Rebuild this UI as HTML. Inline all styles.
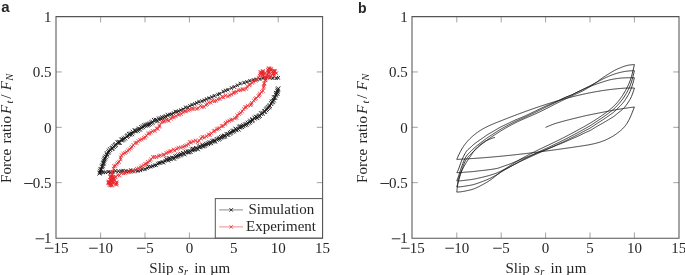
<!DOCTYPE html><html><head><meta charset="utf-8"><style>html,body{margin:0;padding:0;background:#fff;}svg{display:block;will-change:transform;}text{font-family:"Liberation Serif",serif;fill:#262626;}</style></head><body>
<svg width="685" height="275" viewBox="0 0 685 275">
<path d="M100.60 238.3V232.50M100.60 16.6V22.40M145.00 238.3V232.50M145.00 16.6V22.40M189.40 238.3V232.50M189.40 16.6V22.40M233.80 238.3V232.50M233.80 16.6V22.40M278.20 238.3V232.50M278.20 16.6V22.40M56.00 182.65H61.80M322.60 182.65H316.80M56.00 127.30H61.80M322.60 127.30H316.80M56.00 71.95H61.80M322.60 71.95H316.80" stroke="#8c8c8c" stroke-width="0.8" fill="none"/>
<path d="M56.00 16.6V238.3M322.60 16.6V238.3M56.00 16.6H322.60M56.00 238.3H322.60" stroke="#555" stroke-width="1.05" fill="none" stroke-linecap="square"/>
<path d="M278.40 88.10 278.12 89.01 278.02 89.32 277.91 89.66 277.79 90.05 277.66 90.49 277.50 90.96 277.35 91.44 277.19 91.91 277.03 92.39 276.87 92.86 276.70 93.33 276.54 93.80 276.37 94.28 276.19 94.74 276.00 95.21 275.81 95.67 275.62 96.13 275.41 96.58 275.21 97.04 274.99 97.49 274.78 97.94 274.55 98.39 274.32 98.83 274.09 99.27 273.86 99.72 273.62 100.16 273.38 100.59 273.13 101.03 272.88 101.46 272.62 101.88 272.36 102.31 272.09 102.73 271.81 103.15 271.53 103.56 271.25 103.97 270.96 104.38 270.67 104.78 270.37 105.19 270.08 105.59 269.78 105.99 269.47 106.39 269.17 106.78 268.86 107.17 268.54 107.56 268.22 107.94 267.89 108.32 267.55 108.69 267.21 109.05 266.85 109.40 266.50 109.75 266.13 110.09 265.77 110.42 265.39 110.76 265.02 111.08 264.63 111.41 264.25 111.73 263.86 112.05 263.48 112.37 263.09 112.68 262.71 113.00 262.32 113.32 261.93 113.64 261.55 113.95 261.16 114.27 260.77 114.58 260.38 114.90 259.99 115.21 259.60 115.52 259.20 115.82 258.80 116.12 258.40 116.42 257.99 116.71 257.59 117.00 257.17 117.29 256.76 117.57 256.34 117.84 255.92 118.11 255.50 118.38 255.08 118.65 254.66 118.92 254.23 119.18 253.81 119.45 253.39 119.72 252.96 119.99 252.54 120.25 252.12 120.52 251.69 120.78 251.27 121.04 250.84 121.31 250.42 121.57 249.99 121.83 249.56 122.10 249.14 122.36 248.71 122.62 248.28 122.88 247.86 123.14 247.43 123.39 246.99 123.64 246.56 123.89 246.12 124.13 245.68 124.37 245.24 124.61 244.80 124.84 244.36 125.07 243.91 125.30 243.46 125.52 243.01 125.74 242.57 125.97 242.12 126.19 241.68 126.42 241.23 126.66 240.80 126.89 240.36 127.14 239.92 127.38 239.49 127.63 239.06 127.89 238.64 128.15 238.21 128.41 237.79 128.68 237.37 128.95 236.95 129.23 236.53 129.50 236.11 129.76 235.68 130.02 235.25 130.28 234.82 130.53 234.38 130.77 233.94 131.01 233.50 131.24 233.06 131.47 232.61 131.70 232.16 131.91 231.71 132.13 231.26 132.34 230.80 132.55 230.35 132.77 229.90 132.98 229.45 133.20 229.00 133.42 228.55 133.64 228.10 133.86 227.66 134.09 227.21 134.31 226.77 134.54 226.32 134.77 225.88 135.00 225.44 135.24 224.99 135.47 224.55 135.70 224.11 135.93 223.66 136.17 223.22 136.40 222.77 136.62 222.33 136.85 221.88 137.08 221.44 137.30 220.99 137.53 220.54 137.75 220.09 137.97 219.65 138.20 219.20 138.42 218.75 138.64 218.30 138.86 217.85 139.09 217.40 139.31 216.96 139.53 216.51 139.75 216.06 139.97 215.61 140.19 215.16 140.40 214.70 140.62 214.25 140.83 213.80 141.04 213.35 141.25 212.89 141.46 212.44 141.67 211.98 141.88 211.53 142.09 211.07 142.30 210.62 142.50 210.16 142.71 209.71 142.92 209.25 143.12 208.79 143.32 208.33 143.53 207.88 143.73 207.42 143.92 206.96 144.12 206.50 144.32 206.03 144.51 205.57 144.70 205.11 144.89 204.65 145.08 204.19 145.27 203.72 145.46 203.26 145.66 202.80 145.85 202.34 146.04 201.87 146.23 201.41 146.42 200.95 146.61 200.48 146.80 200.02 146.99 199.56 147.18 199.10 147.37 198.63 147.56 198.17 147.75 197.71 147.94 197.24 148.13 196.78 148.32 196.32 148.51 195.86 148.70 195.39 148.88 194.93 149.07 194.47 149.26 194.00 149.45 193.54 149.63 193.07 149.82 192.61 150.01 192.14 150.19 191.68 150.37 191.21 150.56 190.75 150.74 190.28 150.92 189.82 151.10 189.35 151.29 188.88 151.47 188.42 151.65 187.95 151.84 187.49 152.02 187.02 152.20 186.56 152.39 186.09 152.57 185.63 152.76 185.16 152.94 184.70 153.13 184.23 153.31 183.77 153.50 183.30 153.69 182.84 153.87 182.38 154.06 181.91 154.25 181.45 154.43 180.98 154.62 180.52 154.81 180.06 154.99 179.59 155.18 179.13 155.37 178.66 155.55 178.20 155.74 177.73 155.92 177.27 156.11 176.80 156.29 176.34 156.48 175.87 156.66 175.41 156.85 174.94 157.03 174.48 157.22 174.01 157.40 173.55 157.59 173.08 157.77 172.62 157.96 172.15 158.14 171.69 158.32 171.22 158.51 170.76 158.69 170.30 158.88 169.83 159.06 169.37 159.25 168.90 159.43 168.44 159.62 167.97 159.80 167.51 159.99 167.04 160.17 166.58 160.36 166.11 160.54 165.65 160.73 165.18 160.92 164.72 161.11 164.26 161.30 163.80 161.49 163.34 161.69 162.88 161.88 162.42 162.08 161.96 162.28 161.50 162.48 161.04 162.68 160.58 162.88 160.12 163.08 159.66 163.27 159.20 163.47 158.74 163.67 158.28 163.87 157.82 164.06 157.36 164.26 156.90 164.45 156.44 164.65 155.98 164.84 155.52 165.04 155.06 165.23 154.60 165.42 154.13 165.61 153.67 165.80 153.20 165.98 152.74 166.16 152.27 166.34 151.80 166.52 151.33 166.69 150.86 166.86 150.39 167.03 149.92 167.19 149.45 167.35 148.97 167.52 148.50 167.68 148.03 167.84 147.56 168.01 147.08 168.17 146.61 168.33 146.13 168.49 145.66 168.65 145.19 168.81 144.71 168.97 144.24 169.13 143.77 169.30 143.29 169.46 142.82 169.61 142.34 169.75 141.86 169.88 141.38 170.00 140.89 170.11 140.41 170.21 139.92 170.30 139.43 170.38 138.93 170.45 138.44 170.51 137.94 170.56 137.44 170.60 136.94 170.65 136.45 170.69 135.95 170.73 135.45 170.77 134.95 170.80 134.45 170.83 133.95 170.86 133.45 170.89 132.95 170.91 132.45 170.94 131.95 170.96 131.45 170.97 130.95 170.99 130.45 171.01 129.95 171.03 129.45 171.04 128.95 171.06 128.45 171.07 127.95 171.09 127.45 171.10 126.95 171.11 126.45 171.12 125.95 171.13 125.45 171.13 124.95 171.14 124.45 171.15 123.95 171.15 123.45 171.17 122.95 171.18 122.45 171.20 121.95 171.22 121.45 171.24 120.95 171.27 120.45 171.29 119.95 171.33 119.46 171.36 118.96 171.40 118.46 171.44 117.96 171.47 117.46 171.51 116.96 171.55 116.46 171.59 115.96 171.63 115.47 171.67 114.97 171.71 114.47 171.75 113.97 171.79 113.47 171.83 112.97 171.87 112.47 171.91 111.98 171.96 111.48 172.00 110.98 172.04 110.48 172.08 109.98 172.12 109.48 172.16 108.98 172.21 108.49 172.25 107.99 172.29 107.49 172.33 106.99 172.37 106.49 172.40 105.99 172.44 105.49 172.48 104.99 172.51 104.50 172.55 104.00 172.58 103.50 172.61 103.00 172.64 102.50 172.67 102.04 172.70 101.64 172.72 101.27 172.74 100.95 172.75 100.00 172.80M99.50 173.00 99.93 172.15 100.07 171.86 100.22 171.53 100.40 171.16 100.58 170.75 100.79 170.29 100.99 169.83 101.18 169.37 101.37 168.91 101.55 168.45 101.73 167.98 101.91 167.51 102.08 167.04 102.25 166.57 102.42 166.10 102.59 165.63 102.76 165.16 102.93 164.69 103.11 164.22 103.28 163.75 103.45 163.28 103.63 162.81 103.80 162.34 103.97 161.87 104.15 161.41 104.32 160.94 104.51 160.47 104.69 160.01 104.88 159.55 105.07 159.08 105.27 158.63 105.47 158.17 105.67 157.71 105.88 157.26 106.09 156.80 106.31 156.35 106.53 155.90 106.75 155.45 106.98 155.01 107.21 154.57 107.45 154.13 107.70 153.70 107.95 153.27 108.21 152.84 108.47 152.42 108.74 152.00 109.03 151.59 109.33 151.19 109.63 150.80 109.95 150.41 110.27 150.03 110.60 149.66 110.93 149.29 111.28 148.94 111.63 148.58 111.99 148.23 112.35 147.89 112.71 147.54 113.07 147.20 113.43 146.85 113.79 146.50 114.15 146.15 114.51 145.80 114.87 145.46 115.23 145.12 115.60 144.78 115.98 144.45 116.35 144.12 116.74 143.80 117.12 143.49 117.51 143.18 117.91 142.87 118.31 142.57 118.71 142.27 119.11 141.97 119.52 141.68 119.92 141.38 120.33 141.09 120.73 140.80 121.14 140.51 121.55 140.22 121.96 139.93 122.37 139.64 122.78 139.36 123.19 139.07 123.60 138.78 124.01 138.50 124.42 138.21 124.82 137.92 125.23 137.64 125.64 137.35 126.05 137.06 126.46 136.78 126.87 136.49 127.28 136.20 127.69 135.91 128.10 135.63 128.52 135.35 128.93 135.07 129.35 134.79 129.77 134.52 130.19 134.25 130.61 133.98 131.04 133.72 131.46 133.46 131.89 133.20 132.32 132.95 132.75 132.69 133.19 132.44 133.62 132.19 134.05 131.94 134.48 131.69 134.91 131.43 135.35 131.18 135.78 130.93 136.21 130.68 136.65 130.43 137.08 130.18 137.51 129.93 137.94 129.68 138.38 129.43 138.81 129.18 139.24 128.93 139.68 128.68 140.11 128.43 140.54 128.18 140.98 127.93 141.41 127.68 141.84 127.43 142.28 127.18 142.72 126.94 143.16 126.70 143.60 126.46 144.04 126.23 144.48 126.00 144.93 125.77 145.37 125.55 145.82 125.32 146.27 125.10 146.72 124.89 147.17 124.67 147.62 124.45 148.07 124.23 148.52 124.02 148.97 123.80 149.43 123.59 149.88 123.37 150.33 123.16 150.78 122.94 151.23 122.73 151.69 122.52 152.14 122.31 152.59 122.10 153.05 121.88 153.50 121.67 153.96 121.46 154.41 121.25 154.86 121.04 155.32 120.83 155.77 120.62 156.22 120.41 156.68 120.20 157.14 120.00 157.59 119.80 158.05 119.60 158.51 119.40 158.97 119.21 159.44 119.02 159.90 118.83 160.36 118.65 160.83 118.46 161.30 118.28 161.76 118.10 162.23 117.92 162.70 117.74 163.16 117.56 163.63 117.38 164.10 117.20 164.56 117.02 165.03 116.83 165.49 116.65 165.95 116.46 166.42 116.27 166.88 116.08 167.34 115.89 167.80 115.70 168.27 115.51 168.73 115.31 169.19 115.12 169.65 114.93 170.11 114.73 170.57 114.54 171.03 114.34 171.49 114.15 171.95 113.95 172.41 113.76 172.87 113.56 173.33 113.36 173.79 113.16 174.25 112.96 174.71 112.76 175.16 112.55 175.62 112.35 176.08 112.15 176.54 111.94 176.99 111.74 177.45 111.54 177.91 111.33 178.36 111.13 178.82 110.93 179.28 110.72 179.73 110.52 180.19 110.31 180.65 110.11 181.10 109.91 181.56 109.70 182.02 109.50 182.47 109.29 182.93 109.09 183.39 108.88 183.84 108.68 184.30 108.48 184.76 108.27 185.21 108.07 185.67 107.86 186.13 107.66 186.59 107.46 187.05 107.26 187.51 107.06 187.96 106.87 188.43 106.67 188.89 106.48 189.35 106.29 189.81 106.09 190.27 105.90 190.74 105.71 191.20 105.52 191.66 105.33 192.12 105.14 192.59 104.95 193.05 104.76 193.51 104.57 193.98 104.38 194.44 104.19 194.90 104.00 195.36 103.81 195.83 103.62 196.29 103.44 196.75 103.25 197.22 103.06 197.68 102.86 198.14 102.67 198.60 102.48 199.07 102.29 199.53 102.10 199.99 101.91 200.45 101.72 200.91 101.53 201.38 101.33 201.84 101.14 202.30 100.95 202.76 100.76 203.22 100.56 203.68 100.37 204.14 100.18 204.61 99.98 205.07 99.79 205.53 99.60 205.99 99.41 206.45 99.22 206.92 99.03 207.38 98.84 207.85 98.66 208.31 98.48 208.78 98.30 209.25 98.13 209.72 97.96 210.19 97.79 210.66 97.62 211.13 97.46 211.61 97.29 212.08 97.13 212.55 96.96 213.02 96.78 213.48 96.60 213.95 96.42 214.41 96.23 214.87 96.03 215.33 95.83 215.78 95.63 216.23 95.42 216.69 95.20 217.14 94.98 217.59 94.76 218.04 94.55 218.49 94.33 218.94 94.11 219.39 93.89 219.84 93.67 220.29 93.45 220.74 93.23 221.18 93.01 221.63 92.79 222.08 92.57 222.53 92.35 222.98 92.13 223.43 91.90 223.88 91.68 224.32 91.46 224.77 91.24 225.22 91.02 225.67 90.79 226.12 90.57 226.57 90.35 227.01 90.13 227.46 89.91 227.91 89.69 228.36 89.46 228.81 89.24 229.26 89.02 229.70 88.80 230.15 88.58 230.61 88.37 231.06 88.15 231.51 87.94 231.97 87.73 232.42 87.53 232.88 87.33 233.34 87.13 233.80 86.93 234.26 86.74 234.72 86.54 235.18 86.35 235.64 86.15 236.10 85.96 236.57 85.77 237.03 85.57 237.49 85.38 237.95 85.19 238.41 84.99 238.87 84.80 239.33 84.61 239.79 84.41 240.26 84.22 240.72 84.02 241.18 83.83 241.64 83.64 242.11 83.46 242.57 83.28 243.04 83.11 243.51 82.94 243.98 82.78 244.46 82.62 244.93 82.46 245.41 82.31 245.89 82.17 246.37 82.03 246.85 81.89 247.33 81.75 247.81 81.61 248.29 81.47 248.77 81.33 249.25 81.18 249.73 81.04 250.21 80.90 250.69 80.76 251.17 80.62 251.65 80.48 252.13 80.34 252.61 80.20 253.09 80.07 253.57 79.94 254.06 79.82 254.54 79.70 255.03 79.59 255.52 79.49 256.01 79.39 256.50 79.30 256.99 79.22 257.49 79.14 257.98 79.07 258.48 79.00 258.97 78.93 259.47 78.86 259.96 78.79 260.46 78.71 260.95 78.64 261.45 78.57 261.94 78.50 262.44 78.43 262.93 78.36 263.43 78.29 263.92 78.21 264.42 78.14 264.91 78.08 265.41 78.02 265.91 77.97 266.40 77.93 266.90 77.89 267.40 77.86 267.90 77.84 268.40 77.82 268.90 77.81 269.40 77.80 269.90 77.80 270.40 77.80 270.90 77.80 271.40 77.80 271.90 77.80 272.40 77.80 272.90 77.80 273.40 77.80 273.90 77.80 274.40 77.80 274.90 77.80 275.40 77.80 275.90 77.80 276.35 77.80 276.76 77.80 277.13 77.80 277.44 77.80 278.40 77.80" stroke="#333" stroke-width="0.7" fill="none"/>
<path d="M97.50 170.73l4.00 4.80M97.50 175.53l4.00 -4.80M98.13 168.76l4.00 4.80M98.13 173.56l4.00 -4.80M98.74 167.26l4.00 4.80M98.74 172.06l4.00 -4.80M99.50 166.83l4.00 4.80M99.50 171.63l4.00 -4.80M99.91 164.45l4.00 4.80M99.91 169.25l4.00 -4.80M100.72 163.39l4.00 4.80M100.72 168.19l4.00 -4.80M101.17 161.31l4.00 4.80M101.17 166.11l4.00 -4.80M101.69 160.54l4.00 4.80M101.69 165.34l4.00 -4.80M101.89 158.52l4.00 4.80M101.89 163.32l4.00 -4.80M102.33 156.66l4.00 4.80M102.33 161.46l4.00 -4.80M102.97 155.66l4.00 4.80M102.97 160.46l4.00 -4.80M103.79 154.43l4.00 4.80M103.79 159.23l4.00 -4.80M104.88 152.79l4.00 4.80M104.88 157.59l4.00 -4.80M104.92 151.23l4.00 4.80M104.92 156.03l4.00 -4.80M106.41 150.15l4.00 4.80M106.41 154.95l4.00 -4.80M106.92 148.57l4.00 4.80M106.92 153.37l4.00 -4.80M108.08 147.18l4.00 4.80M108.08 151.98l4.00 -4.80M109.73 146.01l4.00 4.80M109.73 150.81l4.00 -4.80M110.58 145.66l4.00 4.80M110.58 150.46l4.00 -4.80M111.58 144.10l4.00 4.80M111.58 148.90l4.00 -4.80M112.92 143.06l4.00 4.80M112.92 147.86l4.00 -4.80M113.75 142.00l4.00 4.80M113.75 146.80l4.00 -4.80M115.67 140.24l4.00 4.80M115.67 145.04l4.00 -4.80M116.81 140.02l4.00 4.80M116.81 144.82l4.00 -4.80M117.70 139.92l4.00 4.80M117.70 144.72l4.00 -4.80M119.37 137.55l4.00 4.80M119.37 142.35l4.00 -4.80M120.50 137.43l4.00 4.80M120.50 142.23l4.00 -4.80M121.73 136.56l4.00 4.80M121.73 141.36l4.00 -4.80M123.08 135.63l4.00 4.80M123.08 140.43l4.00 -4.80M124.80 134.11l4.00 4.80M124.80 138.91l4.00 -4.80M125.77 133.29l4.00 4.80M125.77 138.09l4.00 -4.80M127.07 132.06l4.00 4.80M127.07 136.86l4.00 -4.80M128.23 131.64l4.00 4.80M128.23 136.44l4.00 -4.80M129.99 131.40l4.00 4.80M129.99 136.20l4.00 -4.80M130.77 129.72l4.00 4.80M130.77 134.52l4.00 -4.80M132.68 128.37l4.00 4.80M132.68 133.17l4.00 -4.80M133.77 128.42l4.00 4.80M133.77 133.22l4.00 -4.80M135.61 127.98l4.00 4.80M135.61 132.78l4.00 -4.80M136.57 126.70l4.00 4.80M136.57 131.50l4.00 -4.80M137.98 126.75l4.00 4.80M137.98 131.55l4.00 -4.80M139.32 125.13l4.00 4.80M139.32 129.93l4.00 -4.80M140.92 124.43l4.00 4.80M140.92 129.23l4.00 -4.80M142.18 123.23l4.00 4.80M142.18 128.03l4.00 -4.80M143.66 122.80l4.00 4.80M143.66 127.60l4.00 -4.80M145.42 122.60l4.00 4.80M145.42 127.40l4.00 -4.80M146.54 121.91l4.00 4.80M146.54 126.71l4.00 -4.80M147.90 121.39l4.00 4.80M147.90 126.19l4.00 -4.80M149.43 120.50l4.00 4.80M149.43 125.30l4.00 -4.80M150.56 119.70l4.00 4.80M150.56 124.50l4.00 -4.80M151.96 117.93l4.00 4.80M151.96 122.73l4.00 -4.80M153.86 117.74l4.00 4.80M153.86 122.54l4.00 -4.80M155.56 118.44l4.00 4.80M155.56 123.24l4.00 -4.80M156.91 116.46l4.00 4.80M156.91 121.26l4.00 -4.80M158.85 116.30l4.00 4.80M158.85 121.10l4.00 -4.80M160.45 115.33l4.00 4.80M160.45 120.13l4.00 -4.80M162.43 114.98l4.00 4.80M162.43 119.78l4.00 -4.80M163.73 114.00l4.00 4.80M163.73 118.80l4.00 -4.80M165.81 112.83l4.00 4.80M165.81 117.63l4.00 -4.80M276.28 86.38l4.00 4.80M276.28 91.18l4.00 -4.80M275.59 87.62l4.00 4.80M275.59 92.42l4.00 -4.80M275.57 89.15l4.00 4.80M275.57 93.95l4.00 -4.80M275.44 90.94l4.00 4.80M275.44 95.74l4.00 -4.80M274.09 91.02l4.00 4.80M274.09 95.82l4.00 -4.80M274.03 92.81l4.00 4.80M274.03 97.61l4.00 -4.80M273.16 95.11l4.00 4.80M273.16 99.91l4.00 -4.80M272.02 95.22l4.00 4.80M272.02 100.02l4.00 -4.80M271.78 97.60l4.00 4.80M271.78 102.40l4.00 -4.80M270.86 98.99l4.00 4.80M270.86 103.79l4.00 -4.80M269.85 99.65l4.00 4.80M269.85 104.45l4.00 -4.80M269.14 101.22l4.00 4.80M269.14 106.02l4.00 -4.80M267.81 103.18l4.00 4.80M267.81 107.98l4.00 -4.80M267.27 104.41l4.00 4.80M267.27 109.21l4.00 -4.80M266.01 105.18l4.00 4.80M266.01 109.98l4.00 -4.80M264.93 106.26l4.00 4.80M264.93 111.06l4.00 -4.80M264.10 107.41l4.00 4.80M264.10 112.21l4.00 -4.80M262.94 108.98l4.00 4.80M262.94 113.78l4.00 -4.80M262.17 109.22l4.00 4.80M262.17 114.02l4.00 -4.80M260.62 110.83l4.00 4.80M260.62 115.63l4.00 -4.80M259.14 111.23l4.00 4.80M259.14 116.03l4.00 -4.80M257.77 113.22l4.00 4.80M257.77 118.02l4.00 -4.80M256.60 113.89l4.00 4.80M256.60 118.69l4.00 -4.80M255.25 115.30l4.00 4.80M255.25 120.10l4.00 -4.80M253.99 114.68l4.00 4.80M253.99 119.48l4.00 -4.80M252.45 115.64l4.00 4.80M252.45 120.44l4.00 -4.80M250.41 117.14l4.00 4.80M250.41 121.94l4.00 -4.80M250.29 118.25l4.00 4.80M250.29 123.05l4.00 -4.80M248.26 118.65l4.00 4.80M248.26 123.45l4.00 -4.80M247.52 119.98l4.00 4.80M247.52 124.78l4.00 -4.80M245.86 120.72l4.00 4.80M245.86 125.52l4.00 -4.80M244.47 121.91l4.00 4.80M244.47 126.71l4.00 -4.80M243.20 122.40l4.00 4.80M243.20 127.20l4.00 -4.80M241.35 123.27l4.00 4.80M241.35 128.07l4.00 -4.80M240.01 124.25l4.00 4.80M240.01 129.05l4.00 -4.80M238.44 124.44l4.00 4.80M238.44 129.24l4.00 -4.80M237.39 124.70l4.00 4.80M237.39 129.50l4.00 -4.80M236.49 126.79l4.00 4.80M236.49 131.59l4.00 -4.80M234.56 127.34l4.00 4.80M234.56 132.14l4.00 -4.80M233.42 126.66l4.00 4.80M233.42 131.46l4.00 -4.80M231.99 128.59l4.00 4.80M231.99 133.39l4.00 -4.80M230.53 128.86l4.00 4.80M230.53 133.66l4.00 -4.80M228.98 129.95l4.00 4.80M228.98 134.75l4.00 -4.80M227.93 130.87l4.00 4.80M227.93 135.67l4.00 -4.80M226.17 132.11l4.00 4.80M226.17 136.91l4.00 -4.80M224.60 131.97l4.00 4.80M224.60 136.77l4.00 -4.80M222.84 133.60l4.00 4.80M222.84 138.40l4.00 -4.80M222.18 134.05l4.00 4.80M222.18 138.85l4.00 -4.80M220.67 134.42l4.00 4.80M220.67 139.22l4.00 -4.80M219.12 134.98l4.00 4.80M219.12 139.78l4.00 -4.80M217.58 135.83l4.00 4.80M217.58 140.63l4.00 -4.80M216.61 136.76l4.00 4.80M216.61 141.56l4.00 -4.80M214.75 136.96l4.00 4.80M214.75 141.76l4.00 -4.80M213.15 138.64l4.00 4.80M213.15 143.44l4.00 -4.80M212.02 138.64l4.00 4.80M212.02 143.44l4.00 -4.80M210.33 138.78l4.00 4.80M210.33 143.58l4.00 -4.80M208.95 140.33l4.00 4.80M208.95 145.13l4.00 -4.80M207.41 140.50l4.00 4.80M207.41 145.30l4.00 -4.80M205.99 141.30l4.00 4.80M205.99 146.10l4.00 -4.80M204.15 141.77l4.00 4.80M204.15 146.57l4.00 -4.80M202.87 142.89l4.00 4.80M202.87 147.69l4.00 -4.80M201.42 143.36l4.00 4.80M201.42 148.16l4.00 -4.80M200.56 143.57l4.00 4.80M200.56 148.37l4.00 -4.80M198.50 144.41l4.00 4.80M198.50 149.21l4.00 -4.80M197.18 144.49l4.00 4.80M197.18 149.29l4.00 -4.80M195.83 146.45l4.00 4.80M195.83 151.25l4.00 -4.80M194.15 146.05l4.00 4.80M194.15 150.85l4.00 -4.80M192.46 146.89l4.00 4.80M192.46 151.69l4.00 -4.80M190.92 146.85l4.00 4.80M190.92 151.65l4.00 -4.80M190.12 147.53l4.00 4.80M190.12 152.33l4.00 -4.80M188.57 149.21l4.00 4.80M188.57 154.01l4.00 -4.80M186.86 149.35l4.00 4.80M186.86 154.15l4.00 -4.80M185.83 149.60l4.00 4.80M185.83 154.40l4.00 -4.80M183.66 149.67l4.00 4.80M183.66 154.47l4.00 -4.80M182.34 151.54l4.00 4.80M182.34 156.34l4.00 -4.80M181.10 151.05l4.00 4.80M181.10 155.85l4.00 -4.80M179.13 151.84l4.00 4.80M179.13 156.64l4.00 -4.80M177.96 152.57l4.00 4.80M177.96 157.37l4.00 -4.80M176.45 153.39l4.00 4.80M176.45 158.19l4.00 -4.80M174.82 153.83l4.00 4.80M174.82 158.63l4.00 -4.80M173.47 154.41l4.00 4.80M173.47 159.21l4.00 -4.80M172.07 155.88l4.00 4.80M172.07 160.68l4.00 -4.80M170.60 155.65l4.00 4.80M170.60 160.45l4.00 -4.80M168.50 156.39l4.00 4.80M168.50 161.19l4.00 -4.80M166.94 156.17l4.00 4.80M166.94 160.97l4.00 -4.80M166.21 157.71l4.00 4.80M166.21 162.51l4.00 -4.80M164.46 157.22l4.00 4.80M164.46 162.02l4.00 -4.80" stroke="#151515" stroke-width="0.9" fill="none"/>
<path d="M168.29 112.75l2.80 3.60M168.29 116.35l2.80 -3.60M170.35 112.44l2.80 3.60M170.35 116.04l2.80 -3.60M172.00 111.27l2.80 3.60M172.00 114.87l2.80 -3.60M173.87 109.80l2.80 3.60M173.87 113.40l2.80 -3.60M175.55 109.99l2.80 3.60M175.55 113.59l2.80 -3.60M177.26 109.32l2.80 3.60M177.26 112.92l2.80 -3.60M179.38 108.38l2.80 3.60M179.38 111.98l2.80 -3.60M181.68 107.47l2.80 3.60M181.68 111.07l2.80 -3.60M184.05 105.49l2.80 3.60M184.05 109.09l2.80 -3.60M186.51 105.89l2.80 3.60M186.51 109.49l2.80 -3.60M188.37 104.18l2.80 3.60M188.37 107.78l2.80 -3.60M190.60 102.94l2.80 3.60M190.60 106.54l2.80 -3.60M193.25 102.18l2.80 3.60M193.25 105.78l2.80 -3.60M195.30 101.10l2.80 3.60M195.30 104.70l2.80 -3.60M197.54 99.90l2.80 3.60M197.54 103.50l2.80 -3.60M200.49 99.39l2.80 3.60M200.49 102.99l2.80 -3.60M202.90 98.43l2.80 3.60M202.90 102.03l2.80 -3.60M205.00 97.22l2.80 3.60M205.00 100.82l2.80 -3.60M207.64 96.35l2.80 3.60M207.64 99.95l2.80 -3.60M210.38 95.26l2.80 3.60M210.38 98.86l2.80 -3.60M212.83 93.98l2.80 3.60M212.83 97.58l2.80 -3.60M216.34 92.80l2.80 3.60M216.34 96.40l2.80 -3.60M218.34 91.93l2.80 3.60M218.34 95.53l2.80 -3.60M221.77 89.76l2.80 3.60M221.77 93.36l2.80 -3.60M224.16 88.73l2.80 3.60M224.16 92.33l2.80 -3.60M226.62 87.93l2.80 3.60M226.62 91.53l2.80 -3.60M230.02 86.21l2.80 3.60M230.02 89.81l2.80 -3.60M232.85 85.06l2.80 3.60M232.85 88.66l2.80 -3.60M235.95 83.51l2.80 3.60M235.95 87.11l2.80 -3.60M238.83 81.75l2.80 3.60M238.83 85.35l2.80 -3.60M242.57 80.88l2.80 3.60M242.57 84.48l2.80 -3.60M245.44 80.10l2.80 3.60M245.44 83.70l2.80 -3.60M248.40 78.96l2.80 3.60M248.40 82.56l2.80 -3.60M251.86 78.13l2.80 3.60M251.86 81.73l2.80 -3.60M254.87 77.55l2.80 3.60M254.87 81.15l2.80 -3.60M258.49 77.35l2.80 3.60M258.49 80.95l2.80 -3.60M261.54 76.32l2.80 3.60M261.54 79.92l2.80 -3.60M264.34 76.58l2.80 3.60M264.34 80.18l2.80 -3.60M268.27 75.94l2.80 3.60M268.27 79.54l2.80 -3.60M271.45 76.35l2.80 3.60M271.45 79.95l2.80 -3.60M274.83 76.41l2.80 3.60M274.83 80.01l2.80 -3.60M277.00 76.00l2.80 3.60M277.00 79.60l2.80 -3.60M163.51 158.88l2.80 3.60M163.51 162.48l2.80 -3.60M162.31 160.82l2.80 3.60M162.31 164.42l2.80 -3.60M160.72 160.08l2.80 3.60M160.72 163.68l2.80 -3.60M158.88 161.04l2.80 3.60M158.88 164.64l2.80 -3.60M157.68 161.19l2.80 3.60M157.68 164.79l2.80 -3.60M156.25 161.83l2.80 3.60M156.25 165.43l2.80 -3.60M154.95 163.49l2.80 3.60M154.95 167.09l2.80 -3.60M153.31 163.48l2.80 3.60M153.31 167.08l2.80 -3.60M151.45 164.31l2.80 3.60M151.45 167.91l2.80 -3.60M149.41 164.89l2.80 3.60M149.41 168.49l2.80 -3.60M147.26 165.06l2.80 3.60M147.26 168.66l2.80 -3.60M145.83 166.30l2.80 3.60M145.83 169.90l2.80 -3.60M143.61 167.54l2.80 3.60M143.61 171.14l2.80 -3.60M140.93 167.46l2.80 3.60M140.93 171.06l2.80 -3.60M139.12 168.58l2.80 3.60M139.12 172.18l2.80 -3.60M136.53 169.21l2.80 3.60M136.53 172.81l2.80 -3.60M134.19 168.41l2.80 3.60M134.19 172.01l2.80 -3.60M131.39 169.47l2.80 3.60M131.39 173.07l2.80 -3.60M129.27 168.35l2.80 3.60M129.27 171.95l2.80 -3.60M127.01 169.55l2.80 3.60M127.01 173.15l2.80 -3.60M124.51 169.16l2.80 3.60M124.51 172.76l2.80 -3.60M121.56 168.87l2.80 3.60M121.56 172.47l2.80 -3.60M119.83 169.41l2.80 3.60M119.83 173.01l2.80 -3.60M117.08 169.38l2.80 3.60M117.08 172.98l2.80 -3.60M114.21 169.11l2.80 3.60M114.21 172.71l2.80 -3.60M111.57 170.51l2.80 3.60M111.57 174.11l2.80 -3.60M108.84 170.76l2.80 3.60M108.84 174.36l2.80 -3.60M106.78 170.01l2.80 3.60M106.78 173.61l2.80 -3.60M104.06 170.47l2.80 3.60M104.06 174.07l2.80 -3.60M101.69 170.59l2.80 3.60M101.69 174.19l2.80 -3.60M98.98 170.83l2.80 3.60M98.98 174.43l2.80 -3.60M98.60 171.00l2.80 3.60M98.60 174.60l2.80 -3.60" stroke="#151515" stroke-width="0.9" fill="none"/>
<path d="M267.95 75.44 266.39 76.08 265.77 79.93 265.28 80.09 264.56 83.26 263.89 83.78 264.04 86.26 263.45 87.62 263.07 90.76 261.70 91.95 259.80 93.67 259.29 95.17 258.35 96.26 256.14 98.15 255.01 99.09 253.67 100.52 251.74 102.96 251.35 104.41 250.54 105.14 247.56 105.76 246.14 107.14 244.95 107.38 243.63 109.08 242.26 111.39 240.67 112.86 239.09 113.87 237.07 115.39 236.72 117.78 234.93 118.22 232.52 119.72 231.01 119.80 229.16 120.84 227.41 121.78 225.66 122.91 225.35 124.38 222.91 126.04 221.54 126.07 219.45 128.24 217.87 128.73 216.66 129.32 214.64 130.76 213.66 131.23 211.30 133.31 210.04 134.97 208.52 134.57 206.48 136.18 204.16 137.54 202.34 136.97 200.87 138.43 199.12 140.67 197.57 142.00 195.44 140.60 193.29 141.39 191.19 142.58 189.65 142.12 188.40 144.23 186.55 145.37 184.80 146.06 183.11 146.90 180.90 147.51 178.35 147.82 176.94 148.82 174.70 150.46 173.41 149.59 170.95 151.00 169.72 151.57 167.95 152.42 166.27 153.15 164.23 154.98 163.33 154.58 160.40 155.47 158.93 155.84 156.54 157.01 154.45 157.03 152.80 157.08 150.94 159.40 150.00 160.84 147.79 161.99 147.09 163.75 145.10 163.98 143.69 165.27 141.37 166.24 140.57 167.83 138.69 168.32 136.74 168.97 134.49 171.56 132.98 170.54 130.81 171.77 129.40 171.97 126.36 172.37 125.01 172.84 123.49 173.19 121.37 172.81 119.52 175.42 117.63 175.07 115.74 177.09 114.04 177.46 113.43 179.62 112.58 181.28 112.55 182.18 112.73 177.70 113.18 177.02 112.71 178.70 111.65 180.22 111.33 181.06 111.29 181.12 112.19 182.02 112.96 182.42 111.56 184.07 111.71 185.00 112.10 185.45 110.40 185.34 109.23 185.06 109.71 183.41 109.26 182.81 108.93 182.54 109.07 181.92 108.26 181.70 108.07 182.86 109.84 182.35 110.18 179.89 109.90 176.98 110.50 176.70 110.85 176.26 114.92 180.16 116.66 182.34 116.65 182.90 115.43 183.54 115.92 184.35 116.78 184.37 110.89 180.73 112.04 177.25 111.88 176.31 112.24 174.31 112.10 172.09 112.34 171.88 113.53 168.89 113.89 166.25 115.31 165.81 116.73 164.26 117.69 162.78 119.18 161.95 120.70 159.27 120.56 157.49 121.46 155.27 123.09 153.71 124.90 153.03 126.50 151.99 127.88 150.55 129.49 149.39 130.99 148.23 131.79 146.82 133.27 145.06 135.13 142.84 136.75 142.83 138.22 141.24 139.90 139.96 141.72 139.32 143.63 138.02 145.17 137.51 146.41 135.71 148.04 133.52 149.49 133.34 151.17 132.45 152.62 131.18 154.93 130.82 156.35 128.45 157.93 128.69 159.38 126.60 159.62 125.41 161.67 122.05 163.52 121.57 164.65 121.08 167.32 120.26 168.76 120.66 171.04 118.69 172.18 117.13 173.83 117.29 176.00 116.19 177.89 114.57 179.28 114.55 181.34 113.93 183.11 112.31 184.93 111.11 186.05 111.29 188.51 110.47 189.83 109.46 192.19 108.79 193.56 108.77 196.66 108.83 198.07 108.15 200.43 105.79 201.92 106.92 204.01 106.74 205.89 104.89 207.23 104.03 208.56 102.38 210.79 102.55 212.31 100.75 214.38 101.11 216.24 100.71 217.79 99.07 219.93 98.91 222.23 96.79 223.42 97.24 225.45 95.63 228.00 96.36 229.73 95.23 231.66 94.41 233.36 92.91 234.35 92.51 236.17 91.88 238.44 90.37 240.28 90.11 242.46 89.26 243.70 89.38 246.33 88.75 247.14 86.46 249.29 85.12 250.20 84.41 252.44 82.84 253.43 81.50 255.75 80.60 256.83 79.72 258.40 77.88 259.54 75.93 260.32 74.17 262.00 73.13 262.62 71.41 263.23 71.23 263.57 76.05 263.39 75.04 262.19 74.85 263.30 72.72 262.58 72.11 260.97 72.32 260.14 72.45 265.29 73.05 268.38 72.67 268.69 73.04 269.18 71.86 269.21 71.84 268.56 71.04 267.69 69.90 268.57 69.13 268.82 68.35 269.85 68.72 271.22 68.74 271.17 69.86 272.24 71.41 273.65 70.96 274.61 70.98 275.24 71.24 274.72 72.06 274.18 74.19 273.81 75.75 272.41 73.73 270.24 77.09 268.54 76.54 267.40 77.33 264.77 77.22 276.58 73.37" stroke="#e8262b" stroke-width="0.6" fill="none"/>
<path d="M266.35 73.44l3.20 4.00M266.35 77.44l3.20 -4.00M264.79 74.08l3.20 4.00M264.79 78.08l3.20 -4.00M264.17 77.93l3.20 4.00M264.17 81.93l3.20 -4.00M263.68 78.09l3.20 4.00M263.68 82.09l3.20 -4.00M262.96 81.26l3.20 4.00M262.96 85.26l3.20 -4.00M262.29 81.78l3.20 4.00M262.29 85.78l3.20 -4.00M262.44 84.26l3.20 4.00M262.44 88.26l3.20 -4.00M261.85 85.62l3.20 4.00M261.85 89.62l3.20 -4.00M261.47 88.76l3.20 4.00M261.47 92.76l3.20 -4.00M260.10 89.95l3.20 4.00M260.10 93.95l3.20 -4.00M258.20 91.67l3.20 4.00M258.20 95.67l3.20 -4.00M257.69 93.17l3.20 4.00M257.69 97.17l3.20 -4.00M256.75 94.26l3.20 4.00M256.75 98.26l3.20 -4.00M254.54 96.15l3.20 4.00M254.54 100.15l3.20 -4.00M253.41 97.09l3.20 4.00M253.41 101.09l3.20 -4.00M252.07 98.52l3.20 4.00M252.07 102.52l3.20 -4.00M250.14 100.96l3.20 4.00M250.14 104.96l3.20 -4.00M249.75 102.41l3.20 4.00M249.75 106.41l3.20 -4.00M248.94 103.14l3.20 4.00M248.94 107.14l3.20 -4.00M245.96 103.76l3.20 4.00M245.96 107.76l3.20 -4.00M244.54 105.14l3.20 4.00M244.54 109.14l3.20 -4.00M243.35 105.38l3.20 4.00M243.35 109.38l3.20 -4.00M242.03 107.08l3.20 4.00M242.03 111.08l3.20 -4.00M240.66 109.39l3.20 4.00M240.66 113.39l3.20 -4.00M239.07 110.86l3.20 4.00M239.07 114.86l3.20 -4.00M237.49 111.87l3.20 4.00M237.49 115.87l3.20 -4.00M235.47 113.39l3.20 4.00M235.47 117.39l3.20 -4.00M235.12 115.78l3.20 4.00M235.12 119.78l3.20 -4.00M233.33 116.22l3.20 4.00M233.33 120.22l3.20 -4.00M230.92 117.72l3.20 4.00M230.92 121.72l3.20 -4.00M229.41 117.80l3.20 4.00M229.41 121.80l3.20 -4.00M227.56 118.84l3.20 4.00M227.56 122.84l3.20 -4.00M225.81 119.78l3.20 4.00M225.81 123.78l3.20 -4.00M224.06 120.91l3.20 4.00M224.06 124.91l3.20 -4.00M223.75 122.38l3.20 4.00M223.75 126.38l3.20 -4.00M221.31 124.04l3.20 4.00M221.31 128.04l3.20 -4.00M219.94 124.07l3.20 4.00M219.94 128.07l3.20 -4.00M217.85 126.24l3.20 4.00M217.85 130.24l3.20 -4.00M216.27 126.73l3.20 4.00M216.27 130.73l3.20 -4.00M215.06 127.32l3.20 4.00M215.06 131.32l3.20 -4.00M213.04 128.76l3.20 4.00M213.04 132.76l3.20 -4.00M212.06 129.23l3.20 4.00M212.06 133.23l3.20 -4.00M209.70 131.31l3.20 4.00M209.70 135.31l3.20 -4.00M208.44 132.97l3.20 4.00M208.44 136.97l3.20 -4.00M206.92 132.57l3.20 4.00M206.92 136.57l3.20 -4.00M204.88 134.18l3.20 4.00M204.88 138.18l3.20 -4.00M202.56 135.54l3.20 4.00M202.56 139.54l3.20 -4.00M200.74 134.97l3.20 4.00M200.74 138.97l3.20 -4.00M199.27 136.43l3.20 4.00M199.27 140.43l3.20 -4.00M197.52 138.67l3.20 4.00M197.52 142.67l3.20 -4.00M195.97 140.00l3.20 4.00M195.97 144.00l3.20 -4.00M193.84 138.60l3.20 4.00M193.84 142.60l3.20 -4.00M191.69 139.39l3.20 4.00M191.69 143.39l3.20 -4.00M189.59 140.58l3.20 4.00M189.59 144.58l3.20 -4.00M188.05 140.12l3.20 4.00M188.05 144.12l3.20 -4.00M186.80 142.23l3.20 4.00M186.80 146.23l3.20 -4.00M184.95 143.37l3.20 4.00M184.95 147.37l3.20 -4.00M183.20 144.06l3.20 4.00M183.20 148.06l3.20 -4.00M181.51 144.90l3.20 4.00M181.51 148.90l3.20 -4.00M179.30 145.51l3.20 4.00M179.30 149.51l3.20 -4.00M176.75 145.82l3.20 4.00M176.75 149.82l3.20 -4.00M175.34 146.82l3.20 4.00M175.34 150.82l3.20 -4.00M173.10 148.46l3.20 4.00M173.10 152.46l3.20 -4.00M171.81 147.59l3.20 4.00M171.81 151.59l3.20 -4.00M169.35 149.00l3.20 4.00M169.35 153.00l3.20 -4.00M168.12 149.57l3.20 4.00M168.12 153.57l3.20 -4.00M166.35 150.42l3.20 4.00M166.35 154.42l3.20 -4.00M164.67 151.15l3.20 4.00M164.67 155.15l3.20 -4.00M162.63 152.98l3.20 4.00M162.63 156.98l3.20 -4.00M161.73 152.58l3.20 4.00M161.73 156.58l3.20 -4.00M158.80 153.47l3.20 4.00M158.80 157.47l3.20 -4.00M157.33 153.84l3.20 4.00M157.33 157.84l3.20 -4.00M154.94 155.01l3.20 4.00M154.94 159.01l3.20 -4.00M152.85 155.03l3.20 4.00M152.85 159.03l3.20 -4.00M151.20 155.08l3.20 4.00M151.20 159.08l3.20 -4.00M149.34 157.40l3.20 4.00M149.34 161.40l3.20 -4.00M148.40 158.84l3.20 4.00M148.40 162.84l3.20 -4.00M146.19 159.99l3.20 4.00M146.19 163.99l3.20 -4.00M145.49 161.75l3.20 4.00M145.49 165.75l3.20 -4.00M143.50 161.98l3.20 4.00M143.50 165.98l3.20 -4.00M142.09 163.27l3.20 4.00M142.09 167.27l3.20 -4.00M139.77 164.24l3.20 4.00M139.77 168.24l3.20 -4.00M138.97 165.83l3.20 4.00M138.97 169.83l3.20 -4.00M137.09 166.32l3.20 4.00M137.09 170.32l3.20 -4.00M135.14 166.97l3.20 4.00M135.14 170.97l3.20 -4.00M132.89 169.56l3.20 4.00M132.89 173.56l3.20 -4.00M131.38 168.54l3.20 4.00M131.38 172.54l3.20 -4.00M129.21 169.77l3.20 4.00M129.21 173.77l3.20 -4.00M127.80 169.97l3.20 4.00M127.80 173.97l3.20 -4.00M124.76 170.37l3.20 4.00M124.76 174.37l3.20 -4.00M123.41 170.84l3.20 4.00M123.41 174.84l3.20 -4.00M121.89 171.19l3.20 4.00M121.89 175.19l3.20 -4.00M119.77 170.81l3.20 4.00M119.77 174.81l3.20 -4.00M117.92 173.42l3.20 4.00M117.92 177.42l3.20 -4.00M116.03 173.07l3.20 4.00M116.03 177.07l3.20 -4.00M114.14 175.09l3.20 4.00M114.14 179.09l3.20 -4.00M112.44 175.46l3.20 4.00M112.44 179.46l3.20 -4.00M111.83 177.62l3.20 4.00M111.83 181.62l3.20 -4.00M110.98 179.28l3.20 4.00M110.98 183.28l3.20 -4.00M110.95 180.18l3.20 4.00M110.95 184.18l3.20 -4.00M111.13 175.70l3.20 4.00M111.13 179.70l3.20 -4.00M111.58 175.02l3.20 4.00M111.58 179.02l3.20 -4.00M111.11 176.70l3.20 4.00M111.11 180.70l3.20 -4.00M110.05 178.22l3.20 4.00M110.05 182.22l3.20 -4.00M109.73 179.06l3.20 4.00M109.73 183.06l3.20 -4.00M109.69 179.12l3.20 4.00M109.69 183.12l3.20 -4.00M110.59 180.02l3.20 4.00M110.59 184.02l3.20 -4.00M111.36 180.42l3.20 4.00M111.36 184.42l3.20 -4.00M109.96 182.07l3.20 4.00M109.96 186.07l3.20 -4.00M110.11 183.00l3.20 4.00M110.11 187.00l3.20 -4.00M110.50 183.45l3.20 4.00M110.50 187.45l3.20 -4.00M108.80 183.34l3.20 4.00M108.80 187.34l3.20 -4.00M107.63 183.06l3.20 4.00M107.63 187.06l3.20 -4.00M108.11 181.41l3.20 4.00M108.11 185.41l3.20 -4.00M107.66 180.81l3.20 4.00M107.66 184.81l3.20 -4.00M107.33 180.54l3.20 4.00M107.33 184.54l3.20 -4.00M107.47 179.92l3.20 4.00M107.47 183.92l3.20 -4.00M106.66 179.70l3.20 4.00M106.66 183.70l3.20 -4.00M106.47 180.86l3.20 4.00M106.47 184.86l3.20 -4.00M108.24 180.35l3.20 4.00M108.24 184.35l3.20 -4.00M108.58 177.89l3.20 4.00M108.58 181.89l3.20 -4.00M108.30 174.98l3.20 4.00M108.30 178.98l3.20 -4.00M108.90 174.70l3.20 4.00M108.90 178.70l3.20 -4.00M109.25 174.26l3.20 4.00M109.25 178.26l3.20 -4.00M113.32 178.16l3.20 4.00M113.32 182.16l3.20 -4.00M115.06 180.34l3.20 4.00M115.06 184.34l3.20 -4.00M115.05 180.90l3.20 4.00M115.05 184.90l3.20 -4.00M113.83 181.54l3.20 4.00M113.83 185.54l3.20 -4.00M114.32 182.35l3.20 4.00M114.32 186.35l3.20 -4.00M115.18 182.37l3.20 4.00M115.18 186.37l3.20 -4.00M109.29 178.73l3.20 4.00M109.29 182.73l3.20 -4.00M110.44 175.25l3.20 4.00M110.44 179.25l3.20 -4.00M110.28 174.31l3.20 4.00M110.28 178.31l3.20 -4.00M110.64 172.31l3.20 4.00M110.64 176.31l3.20 -4.00M110.50 170.09l3.20 4.00M110.50 174.09l3.20 -4.00M110.74 169.88l3.20 4.00M110.74 173.88l3.20 -4.00M111.93 166.89l3.20 4.00M111.93 170.89l3.20 -4.00M112.29 164.25l3.20 4.00M112.29 168.25l3.20 -4.00M113.71 163.81l3.20 4.00M113.71 167.81l3.20 -4.00M115.13 162.26l3.20 4.00M115.13 166.26l3.20 -4.00M116.09 160.78l3.20 4.00M116.09 164.78l3.20 -4.00M117.58 159.95l3.20 4.00M117.58 163.95l3.20 -4.00M119.10 157.27l3.20 4.00M119.10 161.27l3.20 -4.00M118.96 155.49l3.20 4.00M118.96 159.49l3.20 -4.00M119.86 153.27l3.20 4.00M119.86 157.27l3.20 -4.00M121.49 151.71l3.20 4.00M121.49 155.71l3.20 -4.00M123.30 151.03l3.20 4.00M123.30 155.03l3.20 -4.00M124.90 149.99l3.20 4.00M124.90 153.99l3.20 -4.00M126.28 148.55l3.20 4.00M126.28 152.55l3.20 -4.00M127.89 147.39l3.20 4.00M127.89 151.39l3.20 -4.00M129.39 146.23l3.20 4.00M129.39 150.23l3.20 -4.00M130.19 144.82l3.20 4.00M130.19 148.82l3.20 -4.00M131.67 143.06l3.20 4.00M131.67 147.06l3.20 -4.00M133.53 140.84l3.20 4.00M133.53 144.84l3.20 -4.00M135.15 140.83l3.20 4.00M135.15 144.83l3.20 -4.00M136.62 139.24l3.20 4.00M136.62 143.24l3.20 -4.00M138.30 137.96l3.20 4.00M138.30 141.96l3.20 -4.00M140.12 137.32l3.20 4.00M140.12 141.32l3.20 -4.00M142.03 136.02l3.20 4.00M142.03 140.02l3.20 -4.00M143.57 135.51l3.20 4.00M143.57 139.51l3.20 -4.00M144.81 133.71l3.20 4.00M144.81 137.71l3.20 -4.00M146.44 131.52l3.20 4.00M146.44 135.52l3.20 -4.00M147.89 131.34l3.20 4.00M147.89 135.34l3.20 -4.00M149.57 130.45l3.20 4.00M149.57 134.45l3.20 -4.00M151.02 129.18l3.20 4.00M151.02 133.18l3.20 -4.00M153.33 128.82l3.20 4.00M153.33 132.82l3.20 -4.00M154.75 126.45l3.20 4.00M154.75 130.45l3.20 -4.00M156.33 126.69l3.20 4.00M156.33 130.69l3.20 -4.00M157.78 124.60l3.20 4.00M157.78 128.60l3.20 -4.00M158.02 123.41l3.20 4.00M158.02 127.41l3.20 -4.00M160.07 120.05l3.20 4.00M160.07 124.05l3.20 -4.00M161.92 119.57l3.20 4.00M161.92 123.57l3.20 -4.00M163.05 119.08l3.20 4.00M163.05 123.08l3.20 -4.00M165.72 118.26l3.20 4.00M165.72 122.26l3.20 -4.00M167.16 118.66l3.20 4.00M167.16 122.66l3.20 -4.00M169.44 116.69l3.20 4.00M169.44 120.69l3.20 -4.00M170.58 115.13l3.20 4.00M170.58 119.13l3.20 -4.00M172.23 115.29l3.20 4.00M172.23 119.29l3.20 -4.00M174.40 114.19l3.20 4.00M174.40 118.19l3.20 -4.00M176.29 112.57l3.20 4.00M176.29 116.57l3.20 -4.00M177.68 112.55l3.20 4.00M177.68 116.55l3.20 -4.00M179.74 111.93l3.20 4.00M179.74 115.93l3.20 -4.00M181.51 110.31l3.20 4.00M181.51 114.31l3.20 -4.00M183.33 109.11l3.20 4.00M183.33 113.11l3.20 -4.00M184.45 109.29l3.20 4.00M184.45 113.29l3.20 -4.00M186.91 108.47l3.20 4.00M186.91 112.47l3.20 -4.00M188.23 107.46l3.20 4.00M188.23 111.46l3.20 -4.00M190.59 106.79l3.20 4.00M190.59 110.79l3.20 -4.00M191.96 106.77l3.20 4.00M191.96 110.77l3.20 -4.00M195.06 106.83l3.20 4.00M195.06 110.83l3.20 -4.00M196.47 106.15l3.20 4.00M196.47 110.15l3.20 -4.00M198.83 103.79l3.20 4.00M198.83 107.79l3.20 -4.00M200.32 104.92l3.20 4.00M200.32 108.92l3.20 -4.00M202.41 104.74l3.20 4.00M202.41 108.74l3.20 -4.00M204.29 102.89l3.20 4.00M204.29 106.89l3.20 -4.00M205.63 102.03l3.20 4.00M205.63 106.03l3.20 -4.00M206.96 100.38l3.20 4.00M206.96 104.38l3.20 -4.00M209.19 100.55l3.20 4.00M209.19 104.55l3.20 -4.00M210.71 98.75l3.20 4.00M210.71 102.75l3.20 -4.00M212.78 99.11l3.20 4.00M212.78 103.11l3.20 -4.00M214.64 98.71l3.20 4.00M214.64 102.71l3.20 -4.00M216.19 97.07l3.20 4.00M216.19 101.07l3.20 -4.00M218.33 96.91l3.20 4.00M218.33 100.91l3.20 -4.00M220.63 94.79l3.20 4.00M220.63 98.79l3.20 -4.00M221.82 95.24l3.20 4.00M221.82 99.24l3.20 -4.00M223.85 93.63l3.20 4.00M223.85 97.63l3.20 -4.00M226.40 94.36l3.20 4.00M226.40 98.36l3.20 -4.00M228.13 93.23l3.20 4.00M228.13 97.23l3.20 -4.00M230.06 92.41l3.20 4.00M230.06 96.41l3.20 -4.00M231.76 90.91l3.20 4.00M231.76 94.91l3.20 -4.00M232.75 90.51l3.20 4.00M232.75 94.51l3.20 -4.00M234.57 89.88l3.20 4.00M234.57 93.88l3.20 -4.00M236.84 88.37l3.20 4.00M236.84 92.37l3.20 -4.00M238.68 88.11l3.20 4.00M238.68 92.11l3.20 -4.00M240.86 87.26l3.20 4.00M240.86 91.26l3.20 -4.00M242.10 87.38l3.20 4.00M242.10 91.38l3.20 -4.00M244.73 86.75l3.20 4.00M244.73 90.75l3.20 -4.00M245.54 84.46l3.20 4.00M245.54 88.46l3.20 -4.00M247.69 83.12l3.20 4.00M247.69 87.12l3.20 -4.00M248.60 82.41l3.20 4.00M248.60 86.41l3.20 -4.00M250.84 80.84l3.20 4.00M250.84 84.84l3.20 -4.00M251.83 79.50l3.20 4.00M251.83 83.50l3.20 -4.00M254.15 78.60l3.20 4.00M254.15 82.60l3.20 -4.00M255.23 77.72l3.20 4.00M255.23 81.72l3.20 -4.00M256.80 75.88l3.20 4.00M256.80 79.88l3.20 -4.00M257.94 73.93l3.20 4.00M257.94 77.93l3.20 -4.00M258.72 72.17l3.20 4.00M258.72 76.17l3.20 -4.00M260.40 71.13l3.20 4.00M260.40 75.13l3.20 -4.00M261.02 69.41l3.20 4.00M261.02 73.41l3.20 -4.00M261.63 69.23l3.20 4.00M261.63 73.23l3.20 -4.00M261.97 74.05l3.20 4.00M261.97 78.05l3.20 -4.00M261.79 73.04l3.20 4.00M261.79 77.04l3.20 -4.00M260.59 72.85l3.20 4.00M260.59 76.85l3.20 -4.00M261.70 70.72l3.20 4.00M261.70 74.72l3.20 -4.00M260.98 70.11l3.20 4.00M260.98 74.11l3.20 -4.00M259.37 70.32l3.20 4.00M259.37 74.32l3.20 -4.00M258.54 70.45l3.20 4.00M258.54 74.45l3.20 -4.00M263.69 71.05l3.20 4.00M263.69 75.05l3.20 -4.00M266.78 70.67l3.20 4.00M266.78 74.67l3.20 -4.00M267.09 71.04l3.20 4.00M267.09 75.04l3.20 -4.00M267.58 69.86l3.20 4.00M267.58 73.86l3.20 -4.00M267.61 69.84l3.20 4.00M267.61 73.84l3.20 -4.00M266.96 69.04l3.20 4.00M266.96 73.04l3.20 -4.00M266.09 67.90l3.20 4.00M266.09 71.90l3.20 -4.00M266.97 67.13l3.20 4.00M266.97 71.13l3.20 -4.00M267.22 66.35l3.20 4.00M267.22 70.35l3.20 -4.00M268.25 66.72l3.20 4.00M268.25 70.72l3.20 -4.00M269.62 66.74l3.20 4.00M269.62 70.74l3.20 -4.00M269.57 67.86l3.20 4.00M269.57 71.86l3.20 -4.00M270.64 69.41l3.20 4.00M270.64 73.41l3.20 -4.00M272.05 68.96l3.20 4.00M272.05 72.96l3.20 -4.00M273.01 68.98l3.20 4.00M273.01 72.98l3.20 -4.00M273.64 69.24l3.20 4.00M273.64 73.24l3.20 -4.00M273.12 70.06l3.20 4.00M273.12 74.06l3.20 -4.00M272.58 72.19l3.20 4.00M272.58 76.19l3.20 -4.00M272.21 73.75l3.20 4.00M272.21 77.75l3.20 -4.00M270.81 71.73l3.20 4.00M270.81 75.73l3.20 -4.00M268.64 75.09l3.20 4.00M268.64 79.09l3.20 -4.00M266.94 74.54l3.20 4.00M266.94 78.54l3.20 -4.00M265.80 75.33l3.20 4.00M265.80 79.33l3.20 -4.00M263.17 75.22l3.20 4.00M263.17 79.22l3.20 -4.00M274.98 71.37l3.20 4.00M274.98 75.37l3.20 -4.00" stroke="#e8262b" stroke-width="0.75" fill="none"/>
<rect x="215.3" y="198.6" width="107.2" height="39.4" fill="#fff" stroke="#555" stroke-width="1"/>
<path d="M219.2 209.9H243" stroke="#8a8a8a" stroke-width="1"/>
<path d="M219.2 226.9H243" stroke="#f08a8a" stroke-width="1"/>
<path d="M229.50 208.20l3.40 3.40M229.50 211.60l3.40 -3.40" stroke="#151515" stroke-width="0.9" fill="none"/>
<path d="M229.50 225.20l3.40 3.40M229.50 228.60l3.40 -3.40" stroke="#e8262b" stroke-width="0.8" fill="none"/>
<text x="248.4" y="213.8" font-size="15">Simulation</text>
<text x="246.0" y="230.8" font-size="15">Experiment</text>
<path d="M456.80 238.3V232.50M456.80 16.6V22.40M501.20 238.3V232.50M501.20 16.6V22.40M545.60 238.3V232.50M545.60 16.6V22.40M590.00 238.3V232.50M590.00 16.6V22.40M634.40 238.3V232.50M634.40 16.6V22.40M412.00 182.65H417.80M679.00 182.65H673.20M412.00 127.30H417.80M679.00 127.30H673.20M412.00 71.95H417.80M679.00 71.95H673.20" stroke="#8c8c8c" stroke-width="0.8" fill="none"/>
<path d="M412.00 16.6V238.3M679.00 16.6V238.3M412.00 16.6H679.00M412.00 238.3H679.00" stroke="#555" stroke-width="1.05" fill="none" stroke-linecap="square"/>
<rect x="44.90" y="247.75" width="8.6" height="0.9" fill="#1a1a1a"/>
<text x="61.10" y="252.6" font-size="15" text-anchor="middle" transform="translate(0,252.6) scale(1,1.0) translate(0,-252.6)">15</text>
<rect x="89.10" y="247.75" width="8.6" height="0.9" fill="#1a1a1a"/>
<text x="105.50" y="252.6" font-size="15" text-anchor="middle" transform="translate(0,252.6) scale(1,1.0) translate(0,-252.6)">10</text>
<rect x="136.95" y="247.75" width="8.6" height="0.9" fill="#1a1a1a"/>
<text x="149.90" y="252.6" font-size="15" text-anchor="middle" transform="translate(0,252.6) scale(1,1.0) translate(0,-252.6)">5</text>
<text x="189.40" y="252.6" font-size="15" text-anchor="middle" transform="translate(0,252.6) scale(1,1.0) translate(0,-252.6)">0</text>
<text x="233.80" y="252.6" font-size="15" text-anchor="middle" transform="translate(0,252.6) scale(1,1.0) translate(0,-252.6)">5</text>
<text x="278.20" y="252.6" font-size="15" text-anchor="middle" transform="translate(0,252.6) scale(1,1.0) translate(0,-252.6)">10</text>
<text x="322.60" y="252.6" font-size="15" text-anchor="middle" transform="translate(0,252.6) scale(1,1.0) translate(0,-252.6)">15</text>
<text x="51.50" y="21.80" font-size="15" text-anchor="end" transform="translate(0,21.80) scale(1,1.0) translate(0,-21.80)">1</text>
<text x="51.50" y="77.15" font-size="15" text-anchor="end" transform="translate(0,77.15) scale(1,1.0) translate(0,-77.15)">0.5</text>
<text x="51.50" y="132.50" font-size="15" text-anchor="end" transform="translate(0,132.50) scale(1,1.0) translate(0,-132.50)">0</text>
<text x="51.50" y="187.85" font-size="15" text-anchor="end" transform="translate(0,187.85) scale(1,1.0) translate(0,-187.85)">0.5</text>
<rect x="24.20" y="183.00" width="8.6" height="0.9" fill="#1a1a1a"/>
<text x="51.50" y="243.20" font-size="15" text-anchor="end" transform="translate(0,243.20) scale(1,1.0) translate(0,-243.20)">1</text>
<rect x="35.60" y="238.35" width="8.6" height="0.9" fill="#1a1a1a"/>
<rect x="401.10" y="247.75" width="8.6" height="0.9" fill="#1a1a1a"/>
<text x="417.30" y="252.6" font-size="15" text-anchor="middle" transform="translate(0,252.6) scale(1,1.0) translate(0,-252.6)">15</text>
<rect x="445.30" y="247.75" width="8.6" height="0.9" fill="#1a1a1a"/>
<text x="461.70" y="252.6" font-size="15" text-anchor="middle" transform="translate(0,252.6) scale(1,1.0) translate(0,-252.6)">10</text>
<rect x="493.15" y="247.75" width="8.6" height="0.9" fill="#1a1a1a"/>
<text x="506.10" y="252.6" font-size="15" text-anchor="middle" transform="translate(0,252.6) scale(1,1.0) translate(0,-252.6)">5</text>
<text x="545.60" y="252.6" font-size="15" text-anchor="middle" transform="translate(0,252.6) scale(1,1.0) translate(0,-252.6)">0</text>
<text x="590.00" y="252.6" font-size="15" text-anchor="middle" transform="translate(0,252.6) scale(1,1.0) translate(0,-252.6)">5</text>
<text x="634.40" y="252.6" font-size="15" text-anchor="middle" transform="translate(0,252.6) scale(1,1.0) translate(0,-252.6)">10</text>
<text x="678.80" y="252.6" font-size="15" text-anchor="middle" transform="translate(0,252.6) scale(1,1.0) translate(0,-252.6)">15</text>
<text x="407.70" y="21.80" font-size="15" text-anchor="end" transform="translate(0,21.80) scale(1,1.0) translate(0,-21.80)">1</text>
<text x="407.70" y="77.15" font-size="15" text-anchor="end" transform="translate(0,77.15) scale(1,1.0) translate(0,-77.15)">0.5</text>
<text x="407.70" y="132.50" font-size="15" text-anchor="end" transform="translate(0,132.50) scale(1,1.0) translate(0,-132.50)">0</text>
<text x="407.70" y="187.85" font-size="15" text-anchor="end" transform="translate(0,187.85) scale(1,1.0) translate(0,-187.85)">0.5</text>
<rect x="380.40" y="183.00" width="8.6" height="0.9" fill="#1a1a1a"/>
<text x="407.70" y="243.20" font-size="15" text-anchor="end" transform="translate(0,243.20) scale(1,1.0) translate(0,-243.20)">1</text>
<rect x="391.80" y="238.35" width="8.6" height="0.9" fill="#1a1a1a"/>
<text y="272.5" font-size="15"><tspan x="149.30">Slip</tspan><tspan x="178.00" font-style="italic">s</tspan><tspan x="184.10" font-style="italic" font-size="10.5" dy="2.2">r</tspan><tspan x="194.30" dy="-2.2">in</tspan><tspan x="209.90">µm</tspan></text>
<text transform="translate(11.20,127.9) rotate(-90)" font-size="15"><tspan x="-55.0">Force</tspan><tspan x="-15.7">ratio</tspan><tspan x="14.0" font-style="italic">F</tspan><tspan x="24.4" font-style="italic" font-size="10.5" dy="2.2">t</tspan><tspan x="29.2" dy="-2.2">/</tspan><tspan x="37.6" font-style="italic">F</tspan><tspan x="47.2" font-style="italic" font-size="10.5" dy="2.2">N</tspan></text>
<text y="272.5" font-size="15"><tspan x="505.50">Slip</tspan><tspan x="534.20" font-style="italic">s</tspan><tspan x="540.30" font-style="italic" font-size="10.5" dy="2.2">r</tspan><tspan x="550.50" dy="-2.2">in</tspan><tspan x="566.10">µm</tspan></text>
<text transform="translate(366.80,127.9) rotate(-90)" font-size="15"><tspan x="-55.0">Force</tspan><tspan x="-15.7">ratio</tspan><tspan x="14.0" font-style="italic">F</tspan><tspan x="24.4" font-style="italic" font-size="10.5" dy="2.2">t</tspan><tspan x="29.2" dy="-2.2">/</tspan><tspan x="37.6" font-style="italic">F</tspan><tspan x="47.2" font-style="italic" font-size="10.5" dy="2.2">N</tspan></text>
<text x="1.2" y="12.2" font-size="15" font-weight="bold" style="font-family:'Liberation Sans',sans-serif">a</text>
<text x="358.0" y="12.6" font-size="14" font-weight="bold" style="font-family:'Liberation Sans',sans-serif">b</text>
<path d="M545.60 127.40 546.35 127.06 547.09 126.73 547.84 126.41 548.58 126.09 549.33 125.77 550.08 125.47 550.82 125.17 551.57 124.87 552.32 124.57 553.06 124.29 553.81 124.01 554.55 123.75 555.30 123.50 556.05 123.27 556.79 123.04 557.54 122.83 558.29 122.62 559.03 122.41 559.78 122.20 560.52 121.99 561.27 121.78 562.02 121.58 562.76 121.37 563.51 121.17 564.26 120.96 565.00 120.76 565.75 120.57 566.49 120.37 567.24 120.18 567.99 119.99 568.73 119.80 569.48 119.61 570.23 119.42 570.97 119.23 571.72 119.05 572.46 118.86 573.21 118.68 573.96 118.50 574.70 118.32 575.45 118.13 576.19 117.95 576.94 117.77 577.69 117.59 578.43 117.41 579.18 117.22 579.93 117.04 580.67 116.86 581.42 116.68 582.16 116.51 582.91 116.33 583.66 116.15 584.40 115.98 585.15 115.81 585.90 115.64 586.64 115.48 587.39 115.32 588.13 115.16 588.88 115.00 589.63 114.85 590.37 114.70 591.12 114.55 591.87 114.40 592.61 114.25 593.36 114.10 594.10 113.96 594.85 113.81 595.60 113.67 596.34 113.52 597.09 113.38 597.84 113.23 598.58 113.08 599.33 112.93 600.07 112.78 600.82 112.63 601.57 112.48 602.31 112.33 603.06 112.18 603.81 112.03 604.55 111.88 605.30 111.74 606.04 111.59 606.79 111.45 607.54 111.31 608.28 111.17 609.03 111.02 609.77 110.88 610.52 110.74 611.27 110.60 612.01 110.46 612.76 110.33 613.51 110.19 614.25 110.05 615.00 109.92 615.74 109.79 616.49 109.65 617.24 109.52 617.98 109.40 618.73 109.27 619.48 109.15 620.22 109.02 620.97 108.91 621.71 108.79 622.46 108.67 623.21 108.56 623.95 108.44 624.70 108.33 625.45 108.22 626.19 108.11 626.94 108.00 627.68 107.89 628.43 107.79 629.18 107.69 629.92 107.58 630.67 107.48 631.42 107.38 632.16 107.28 632.91 107.19 633.65 107.09 634.40 107.00M634.40 107.00 633.66 108.81 632.92 110.80 632.18 112.70 631.44 114.52 630.70 116.25 629.96 117.88 629.22 119.40 628.48 120.81 627.74 122.11 627.00 123.31 626.26 124.41 625.52 125.43 624.78 126.36 624.04 127.23 623.30 128.04 622.56 128.79 621.82 129.49 621.08 130.16 620.34 130.80 619.60 131.41 618.86 132.01 618.12 132.58 617.38 133.14 616.64 133.69 615.90 134.21 615.16 134.72 614.42 135.22 613.68 135.69 612.94 136.16 612.20 136.60 611.46 137.03 610.72 137.45 609.98 137.85 609.24 138.24 608.50 138.62 607.76 138.98 607.02 139.33 606.28 139.67 605.54 139.99 604.80 140.30 604.06 140.60 603.32 140.89 602.58 141.17 601.84 141.44 601.10 141.70 600.36 141.95 599.62 142.18 598.88 142.41 598.14 142.64 597.40 142.85 596.66 143.05 595.92 143.25 595.18 143.44 594.44 143.62 593.70 143.79 592.96 143.96 592.22 144.12 591.48 144.28 590.74 144.43 590.00 144.58 589.26 144.72 588.52 144.86 587.78 144.99 587.04 145.12 586.30 145.24 585.56 145.37 584.82 145.49 584.08 145.60 583.34 145.72 582.60 145.83 581.86 145.94 581.12 146.06 580.38 146.17 579.64 146.28 578.90 146.39 578.16 146.50 577.42 146.61 576.68 146.71 575.94 146.82 575.20 146.93 574.46 147.04 573.72 147.15 572.98 147.26 572.24 147.37 571.50 147.47 570.76 147.58 570.02 147.69 569.28 147.80 568.54 147.90 567.80 148.01 567.06 148.12 566.32 148.22 565.58 148.33 564.84 148.43 564.10 148.54 563.36 148.64 562.62 148.75 561.88 148.85 561.14 148.96 560.40 149.06 559.66 149.16 558.92 149.27 558.18 149.37 557.44 149.47 556.70 149.58 555.96 149.68 555.22 149.78 554.48 149.88 553.74 149.98 553.00 150.08 552.26 150.18 551.52 150.29 550.78 150.39 550.04 150.48 549.30 150.58 548.56 150.68 547.82 150.78 547.08 150.88 546.34 150.98 545.60 151.08 544.86 151.17 544.12 151.27 543.38 151.37 542.64 151.46 541.90 151.56 541.16 151.65 540.42 151.75 539.68 151.84 538.94 151.94 538.20 152.03 537.46 152.13 536.72 152.22 535.98 152.31 535.24 152.41 534.50 152.50 533.76 152.59 533.02 152.68 532.28 152.77 531.54 152.86 530.80 152.95 530.06 153.04 529.32 153.13 528.58 153.22 527.84 153.31 527.10 153.40 526.36 153.49 525.62 153.57 524.88 153.66 524.14 153.75 523.40 153.83 522.66 153.92 521.92 154.00 521.18 154.09 520.44 154.17 519.70 154.25 518.96 154.34 518.22 154.42 517.48 154.50 516.74 154.59 516.00 154.67 515.26 154.75 514.52 154.83 513.78 154.91 513.04 154.99 512.30 155.07 511.56 155.15 510.82 155.22 510.08 155.30 509.34 155.38 508.60 155.45 507.86 155.53 507.12 155.61 506.38 155.68 505.64 155.76 504.90 155.83 504.16 155.90 503.42 155.98 502.68 156.05 501.94 156.12 501.20 156.19 500.46 156.26 499.72 156.33 498.98 156.40 498.24 156.47 497.50 156.54 496.76 156.61 496.02 156.68 495.28 156.75 494.54 156.81 493.80 156.88 493.06 156.94 492.32 157.01 491.58 157.07 490.84 157.14 490.10 157.20 489.36 157.26 488.62 157.32 487.88 157.39 487.14 157.45 486.40 157.51 485.66 157.57 484.92 157.63 484.18 157.68 483.44 157.74 482.70 157.80 481.96 157.86 481.22 157.91 480.48 157.97 479.74 158.02 479.00 158.08 478.26 158.13 477.52 158.18 476.78 158.24 476.04 158.29 475.30 158.34 474.56 158.39 473.82 158.44 473.08 158.49 472.34 158.54 471.60 158.58 470.86 158.63 470.12 158.68 469.38 158.72 468.64 158.77 467.90 158.81 467.16 158.86 466.42 158.90 465.68 158.94 464.94 158.99 464.20 159.03 463.46 159.07 462.72 159.11 461.98 159.15 461.24 159.18 460.50 159.22 459.76 159.26 459.02 159.30 458.28 159.33 457.54 159.37 456.80 159.40M456.80 159.40 457.54 157.61 458.28 155.92 459.02 154.33 459.76 152.82 460.50 151.39 461.24 150.05 461.98 148.78 462.72 147.58 463.46 146.45 464.20 145.38 464.94 144.37 465.68 143.41 466.42 142.50 467.16 141.63 467.90 140.80 468.64 140.01 469.38 139.25 470.12 138.51 470.86 137.80 471.60 137.11 472.34 136.44 473.08 135.80 473.82 135.17 474.56 134.56 475.30 133.97 476.04 133.40 476.78 132.85 477.52 132.31 478.26 131.80 479.00 131.29 479.74 130.81 480.48 130.33 481.22 129.88 481.96 129.43 482.70 129.00 483.44 128.58 484.18 128.17 484.92 127.78 485.66 127.39 486.40 127.02 487.14 126.65 487.88 126.30 488.62 125.95 489.36 125.61 490.10 125.27 490.84 124.94 491.58 124.62 492.32 124.30 493.06 123.99 493.80 123.68 494.54 123.38 495.28 123.08 496.02 122.78 496.76 122.48 497.50 122.18 498.24 121.89 498.98 121.59 499.72 121.29 500.46 121.00 501.20 120.71 501.94 120.41 502.68 120.12 503.42 119.83 504.16 119.53 504.90 119.24 505.64 118.95 506.38 118.66 507.12 118.37 507.86 118.09 508.60 117.80 509.34 117.51 510.08 117.22 510.82 116.94 511.56 116.65 512.30 116.37 513.04 116.09 513.78 115.80 514.52 115.52 515.26 115.24 516.00 114.96 516.74 114.68 517.48 114.40 518.22 114.13 518.96 113.85 519.70 113.57 520.44 113.30 521.18 113.02 521.92 112.75 522.66 112.48 523.40 112.21 524.14 111.94 524.88 111.67 525.62 111.40 526.36 111.13 527.10 110.86 527.84 110.60 528.58 110.33 529.32 110.07 530.06 109.81 530.80 109.54 531.54 109.28 532.28 109.02 533.02 108.77 533.76 108.51 534.50 108.25 535.24 108.00 535.98 107.74 536.72 107.49 537.46 107.24 538.20 106.98 538.94 106.73 539.68 106.49 540.42 106.24 541.16 105.99 541.90 105.75 542.64 105.50 543.38 105.26 544.12 105.02 544.86 104.78 545.60 104.54 546.34 104.30 547.08 104.06 547.82 103.83 548.56 103.59 549.30 103.36 550.04 103.13 550.78 102.90 551.52 102.67 552.26 102.44 553.00 102.21 553.74 101.99 554.48 101.76 555.22 101.54 555.96 101.32 556.70 101.10 557.44 100.88 558.18 100.66 558.92 100.45 559.66 100.23 560.40 100.02 561.14 99.81 561.88 99.60 562.62 99.39 563.36 99.18 564.10 98.98 564.84 98.77 565.58 98.57 566.32 98.37 567.06 98.17 567.80 97.97 568.54 97.78 569.28 97.58 570.02 97.39 570.76 97.20 571.50 97.01 572.24 96.82 572.98 96.63 573.72 96.45 574.46 96.26 575.20 96.08 575.94 95.90 576.68 95.72 577.42 95.54 578.16 95.37 578.90 95.20 579.64 95.02 580.38 94.85 581.12 94.68 581.86 94.52 582.60 94.35 583.34 94.19 584.08 94.03 584.82 93.87 585.56 93.71 586.30 93.55 587.04 93.40 587.78 93.25 588.52 93.09 589.26 92.95 590.00 92.80 590.74 92.65 591.48 92.51 592.22 92.37 592.96 92.23 593.70 92.09 594.44 91.95 595.18 91.82 595.92 91.69 596.66 91.56 597.40 91.43 598.14 91.30 598.88 91.18 599.62 91.06 600.36 90.94 601.10 90.82 601.84 90.70 602.58 90.59 603.32 90.47 604.06 90.36 604.80 90.26 605.54 90.15 606.28 90.05 607.02 89.94 607.76 89.84 608.50 89.75 609.24 89.65 609.98 89.56 610.72 89.47 611.46 89.38 612.20 89.29 612.94 89.20 613.68 89.12 614.42 89.04 615.16 88.96 615.90 88.89 616.64 88.81 617.38 88.74 618.12 88.67 618.86 88.60 619.60 88.54 620.34 88.47 621.08 88.41 621.82 88.36 622.56 88.30 623.30 88.25 624.04 88.19 624.78 88.15 625.52 88.10 626.26 88.05 627.00 88.04 627.74 88.03 628.48 88.03 629.22 88.03 629.96 88.02 630.70 88.02 631.44 88.01 632.18 88.01 632.92 88.01 633.66 88.00 634.40 88.00M634.40 88.00 633.66 90.47 632.92 92.74 632.18 94.79 631.44 96.57 630.70 98.12 629.96 99.52 629.22 100.78 628.48 101.95 627.74 103.06 627.00 104.12 626.26 105.13 625.52 106.09 624.78 107.00 624.04 107.85 623.30 108.64 622.56 109.38 621.82 110.04 621.08 110.65 620.34 111.23 619.60 111.79 618.86 112.35 618.12 112.94 617.38 113.56 616.64 114.19 615.90 114.82 615.16 115.44 614.42 116.01 613.68 116.54 612.94 117.03 612.20 117.50 611.46 117.95 610.72 118.39 609.98 118.83 609.24 119.26 608.50 119.70 607.76 120.15 607.02 120.60 606.28 121.04 605.54 121.49 604.80 121.93 604.06 122.37 603.32 122.80 602.58 123.23 601.84 123.66 601.10 124.07 600.36 124.48 599.62 124.89 598.88 125.29 598.14 125.70 597.40 126.11 596.66 126.53 595.92 126.97 595.18 127.42 594.44 127.90 593.70 128.37 592.96 128.85 592.22 129.31 591.48 129.75 590.74 130.16 590.00 130.54 589.26 130.90 588.52 131.24 587.78 131.57 587.04 131.89 586.30 132.21 585.56 132.53 584.82 132.87 584.08 133.22 583.34 133.58 582.60 133.96 581.86 134.34 581.12 134.72 580.38 135.09 579.64 135.46 578.90 135.81 578.16 136.15 577.42 136.48 576.68 136.81 575.94 137.12 575.20 137.44 574.46 137.75 573.72 138.06 572.98 138.37 572.24 138.69 571.50 139.01 570.76 139.33 570.02 139.66 569.28 139.99 568.54 140.32 567.80 140.65 567.06 140.98 566.32 141.31 565.58 141.64 564.84 141.96 564.10 142.27 563.36 142.58 562.62 142.88 561.88 143.18 561.14 143.48 560.40 143.77 559.66 144.07 558.92 144.36 558.18 144.65 557.44 144.95 556.70 145.25 555.96 145.55 555.22 145.85 554.48 146.16 553.74 146.46 553.00 146.77 552.26 147.08 551.52 147.38 550.78 147.68 550.04 147.98 549.30 148.28 548.56 148.57 547.82 148.85 547.08 149.14 546.34 149.42 545.60 149.70 544.86 149.99 544.12 150.27 543.38 150.55 542.64 150.84 541.90 151.13 541.16 151.42 540.42 151.71 539.68 152.00 538.94 152.29 538.20 152.58 537.46 152.87 536.72 153.17 535.98 153.46 535.24 153.75 534.50 154.04 533.76 154.33 533.02 154.63 532.28 154.92 531.54 155.21 530.80 155.51 530.06 155.80 529.32 156.09 528.58 156.38 527.84 156.68 527.10 156.97 526.36 157.26 525.62 157.55 524.88 157.84 524.14 158.13 523.40 158.42 522.66 158.71 521.92 159.01 521.18 159.31 520.44 159.61 519.70 159.92 518.96 160.23 518.22 160.54 517.48 160.86 516.74 161.18 516.00 161.49 515.26 161.81 514.52 162.11 513.78 162.42 513.04 162.72 512.30 163.02 511.56 163.32 510.82 163.62 510.08 163.91 509.34 164.19 508.60 164.47 507.86 164.74 507.12 165.01 506.38 165.27 505.64 165.53 504.90 165.78 504.16 166.04 503.42 166.29 502.68 166.56 501.94 166.83 501.20 167.10 500.46 167.37 499.72 167.64 498.98 167.88 498.24 168.10 497.50 168.29 496.76 168.45 496.02 168.61 495.28 168.75 494.54 168.88 493.80 169.00 493.06 169.12 492.32 169.24 491.58 169.35 490.84 169.46 490.10 169.56 489.36 169.66 488.62 169.76 487.88 169.86 487.14 169.95 486.40 170.04 485.66 170.13 484.92 170.22 484.18 170.30 483.44 170.39 482.70 170.47 481.96 170.55 481.22 170.63 480.48 170.70 479.74 170.78 479.00 170.86 478.26 170.94 477.52 171.03 476.78 171.12 476.04 171.21 475.30 171.30 474.56 171.39 473.82 171.47 473.08 171.55 472.34 171.63 471.60 171.69 470.86 171.75 470.12 171.81 469.38 171.86 468.64 171.91 467.90 171.96 467.16 172.01 466.42 172.07 465.68 172.12 464.94 172.18 464.20 172.25 463.46 172.32 462.72 172.38 461.98 172.44 461.24 172.50 460.50 172.54 459.76 172.58 459.02 172.62 458.28 172.65 457.54 172.68 456.80 172.70M456.80 172.70 457.54 171.41 458.28 169.86 459.02 167.94 459.76 165.76 460.50 163.70 461.24 161.71 461.98 159.83 462.72 158.12 463.46 156.53 464.20 155.06 464.94 153.73 465.68 152.48 466.42 151.34 467.16 150.38 467.90 149.61 468.64 148.97 469.38 148.38 470.12 147.77 470.86 147.10 471.60 146.38 472.34 145.67 473.08 144.98 473.82 144.35 474.56 143.76 475.30 143.19 476.04 142.65 476.78 142.11 477.52 141.58 478.26 141.06 479.00 140.54 479.74 140.04 480.48 139.54 481.22 139.04 481.96 138.53 482.70 138.02 483.44 137.50 484.18 136.97 484.92 136.45 485.66 135.93 486.40 135.42 487.14 134.93 487.88 134.46 488.62 134.00 489.36 133.56 490.10 133.12 490.84 132.69 491.58 132.27 492.32 131.84 493.06 131.42 493.80 130.99 494.54 130.55 495.28 130.12 496.02 129.68 496.76 129.25 497.50 128.82 498.24 128.39 498.98 127.97 499.72 127.56 500.46 127.16 501.20 126.77 501.94 126.39 502.68 126.03 503.42 125.67 504.16 125.32 504.90 124.97 505.64 124.62 506.38 124.28 507.12 123.93 507.86 123.57 508.60 123.22 509.34 122.86 510.08 122.50 510.82 122.14 511.56 121.78 512.30 121.43 513.04 121.08 513.78 120.73 514.52 120.40 515.26 120.06 516.00 119.74 516.74 119.42 517.48 119.12 518.22 118.82 518.96 118.52 519.70 118.23 520.44 117.93 521.18 117.63 521.92 117.33 522.66 117.01 523.40 116.69 524.14 116.36 524.88 116.02 525.62 115.68 526.36 115.34 527.10 114.99 527.84 114.64 528.58 114.29 529.32 113.94 530.06 113.59 530.80 113.24 531.54 112.89 532.28 112.53 533.02 112.17 533.76 111.82 534.50 111.46 535.24 111.10 535.98 110.74 536.72 110.39 537.46 110.03 538.20 109.68 538.94 109.32 539.68 108.96 540.42 108.61 541.16 108.25 541.90 107.90 542.64 107.55 543.38 107.20 544.12 106.85 544.86 106.51 545.60 106.18 546.34 105.85 547.08 105.52 547.82 105.19 548.56 104.87 549.30 104.55 550.04 104.24 550.78 103.92 551.52 103.60 552.26 103.28 553.00 102.97 553.74 102.65 554.48 102.32 555.22 102.00 555.96 101.67 556.70 101.34 557.44 101.00 558.18 100.66 558.92 100.31 559.66 99.96 560.40 99.60 561.14 99.25 561.88 98.90 562.62 98.55 563.36 98.21 564.10 97.88 564.84 97.56 565.58 97.24 566.32 96.95 567.06 96.67 567.80 96.41 568.54 96.15 569.28 95.89 570.02 95.62 570.76 95.33 571.50 95.03 572.24 94.70 572.98 94.35 573.72 93.99 574.46 93.61 575.20 93.23 575.94 92.85 576.68 92.48 577.42 92.12 578.16 91.77 578.90 91.41 579.64 91.06 580.38 90.71 581.12 90.36 581.86 90.02 582.60 89.68 583.34 89.33 584.08 89.00 584.82 88.67 585.56 88.34 586.30 88.02 587.04 87.70 587.78 87.39 588.52 87.08 589.26 86.79 590.00 86.49 590.74 86.20 591.48 85.91 592.22 85.63 592.96 85.35 593.70 85.07 594.44 84.79 595.18 84.52 595.92 84.25 596.66 83.99 597.40 83.73 598.14 83.47 598.88 83.22 599.62 82.98 600.36 82.74 601.10 82.50 601.84 82.26 602.58 82.01 603.32 81.77 604.06 81.53 604.80 81.29 605.54 81.05 606.28 80.82 607.02 80.59 607.76 80.38 608.50 80.17 609.24 79.97 609.98 79.79 610.72 79.62 611.46 79.47 612.20 79.33 612.94 79.20 613.68 79.08 614.42 78.96 615.16 78.84 615.90 78.73 616.64 78.61 617.38 78.51 618.12 78.41 618.86 78.31 619.60 78.23 620.34 78.15 621.08 78.08 621.82 78.02 622.56 77.96 623.30 77.92 624.04 77.89 624.78 77.87 625.52 77.85 626.26 77.83 627.00 77.81 627.74 77.79 628.48 77.77 629.22 77.76 629.96 77.74 630.70 77.73 631.44 77.72 632.18 77.71 632.92 77.70 633.66 77.70 634.40 77.70M634.40 77.70 633.66 80.57 632.92 83.25 632.18 85.74 631.44 87.94 630.70 89.83 629.96 91.52 629.22 93.05 628.48 94.46 627.74 95.79 627.00 97.06 626.26 98.26 625.52 99.40 624.78 100.48 624.04 101.51 623.30 102.48 622.56 103.39 621.82 104.24 621.08 105.03 620.34 105.78 619.60 106.50 618.86 107.22 618.12 107.95 617.38 108.69 616.64 109.43 615.90 110.16 615.16 110.86 614.42 111.53 613.68 112.15 612.94 112.74 612.20 113.30 611.46 113.85 610.72 114.38 609.98 114.90 609.24 115.42 608.50 115.93 607.76 116.45 607.02 116.97 606.28 117.48 605.54 117.99 604.80 118.49 604.06 118.99 603.32 119.49 602.58 119.98 601.84 120.46 601.10 120.93 600.36 121.40 599.62 121.87 598.88 122.33 598.14 122.80 597.40 123.27 596.66 123.74 595.92 124.22 595.18 124.72 594.44 125.23 593.70 125.75 592.96 126.26 592.22 126.76 591.48 127.24 590.74 127.69 590.00 128.12 589.26 128.53 588.52 128.92 587.78 129.30 587.04 129.68 586.30 130.06 585.56 130.44 584.82 130.82 584.08 131.22 583.34 131.63 582.60 132.04 581.86 132.46 581.12 132.88 580.38 133.30 579.64 133.70 578.90 134.10 578.16 134.48 577.42 134.86 576.68 135.23 575.94 135.60 575.20 135.96 574.46 136.32 573.72 136.69 572.98 137.05 572.24 137.41 571.50 137.78 570.76 138.15 570.02 138.53 569.28 138.90 568.54 139.28 567.80 139.66 567.06 140.03 566.32 140.40 565.58 140.77 564.84 141.13 564.10 141.49 563.36 141.84 562.62 142.19 561.88 142.54 561.14 142.88 560.40 143.22 559.66 143.55 558.92 143.89 558.18 144.23 557.44 144.57 556.70 144.91 555.96 145.25 555.22 145.59 554.48 145.94 553.74 146.28 553.00 146.63 552.26 146.97 551.52 147.31 550.78 147.65 550.04 147.99 549.30 148.33 548.56 148.66 547.82 148.98 547.08 149.31 546.34 149.64 545.60 149.96 544.86 150.29 544.12 150.61 543.38 150.94 542.64 151.27 541.90 151.60 541.16 151.93 540.42 152.26 539.68 152.59 538.94 152.93 538.20 153.26 537.46 153.59 536.72 153.93 535.98 154.26 535.24 154.60 534.50 154.94 533.76 155.27 533.02 155.61 532.28 155.95 531.54 156.29 530.80 156.63 530.06 156.97 529.32 157.31 528.58 157.66 527.84 158.00 527.10 158.34 526.36 158.68 525.62 159.03 524.88 159.37 524.14 159.71 523.40 160.06 522.66 160.41 521.92 160.76 521.18 161.12 520.44 161.48 519.70 161.84 518.96 162.21 518.22 162.59 517.48 162.96 516.74 163.34 516.00 163.72 515.26 164.10 514.52 164.47 513.78 164.85 513.04 165.22 512.30 165.59 511.56 165.97 510.82 166.34 510.08 166.70 509.34 167.07 508.60 167.42 507.86 167.78 507.12 168.13 506.38 168.47 505.64 168.82 504.90 169.16 504.16 169.51 503.42 169.85 502.68 170.21 501.94 170.57 501.20 170.94 500.46 171.31 499.72 171.67 498.98 172.03 498.24 172.36 497.50 172.67 496.76 172.97 496.02 173.25 495.28 173.52 494.54 173.79 493.80 174.04 493.06 174.29 492.32 174.54 491.58 174.77 490.84 175.01 490.10 175.24 489.36 175.45 488.62 175.66 487.88 175.87 487.14 176.06 486.40 176.25 485.66 176.43 484.92 176.62 484.18 176.80 483.44 176.98 482.70 177.16 481.96 177.34 481.22 177.51 480.48 177.68 479.74 177.85 479.00 178.01 478.26 178.18 477.52 178.34 476.78 178.51 476.04 178.67 475.30 178.83 474.56 178.98 473.82 179.13 473.08 179.26 472.34 179.39 471.60 179.50 470.86 179.61 470.12 179.70 469.38 179.79 468.64 179.88 467.90 179.96 467.16 180.05 466.42 180.14 465.68 180.22 464.94 180.31 464.20 180.40 463.46 180.50 462.72 180.58 461.98 180.66 461.24 180.74 460.50 180.80 459.76 180.85 459.02 180.90 458.28 180.94 457.54 180.97 456.80 181.00M456.80 181.00 457.54 179.04 458.28 176.97 459.02 174.73 459.76 172.37 460.50 170.14 461.24 167.94 461.98 165.79 462.72 163.77 463.46 161.87 464.20 160.12 464.94 158.58 465.68 157.24 466.42 156.07 467.16 155.05 467.90 154.18 468.64 153.42 469.38 152.71 470.12 152.01 470.86 151.29 471.60 150.55 472.34 149.82 473.08 149.11 473.82 148.42 474.56 147.76 475.30 147.12 476.04 146.49 476.78 145.87 477.52 145.26 478.26 144.66 479.00 144.08 479.74 143.50 480.48 142.93 481.22 142.36 481.96 141.80 482.70 141.24 483.44 140.68 484.18 140.11 484.92 139.55 485.66 139.00 486.40 138.46 487.14 137.93 487.88 137.42 488.62 136.92 489.36 136.42 490.10 135.94 490.84 135.46 491.58 134.98 492.32 134.51 493.06 134.03 493.80 133.56 494.54 133.08 495.28 132.61 496.02 132.14 496.76 131.67 497.50 131.20 498.24 130.74 498.98 130.29 499.72 129.84 500.46 129.40 501.20 128.97 501.94 128.55 502.68 128.14 503.42 127.73 504.16 127.33 504.90 126.93 505.64 126.54 506.38 126.15 507.12 125.75 507.86 125.36 508.60 124.97 509.34 124.58 510.08 124.19 510.82 123.80 511.56 123.41 512.30 123.03 513.04 122.66 513.78 122.28 514.52 121.91 515.26 121.55 516.00 121.20 516.74 120.85 517.48 120.51 518.22 120.18 518.96 119.85 519.70 119.53 520.44 119.20 521.18 118.88 521.92 118.55 522.66 118.22 523.40 117.89 524.14 117.55 524.88 117.21 525.62 116.87 526.36 116.52 527.10 116.18 527.84 115.83 528.58 115.48 529.32 115.14 530.06 114.79 530.80 114.44 531.54 114.09 532.28 113.74 533.02 113.39 533.76 113.03 534.50 112.68 535.24 112.32 535.98 111.96 536.72 111.61 537.46 111.25 538.20 110.89 538.94 110.52 539.68 110.16 540.42 109.79 541.16 109.42 541.90 109.05 542.64 108.69 543.38 108.32 544.12 107.95 544.86 107.59 545.60 107.22 546.34 106.86 547.08 106.50 547.82 106.14 548.56 105.78 549.30 105.43 550.04 105.07 550.78 104.71 551.52 104.36 552.26 104.00 553.00 103.65 553.74 103.29 554.48 102.93 555.22 102.57 555.96 102.21 556.70 101.85 557.44 101.49 558.18 101.12 558.92 100.75 559.66 100.38 560.40 100.01 561.14 99.64 561.88 99.28 562.62 98.91 563.36 98.55 564.10 98.20 564.84 97.85 565.58 97.51 566.32 97.18 567.06 96.86 567.80 96.55 568.54 96.24 569.28 95.93 570.02 95.61 570.76 95.29 571.50 94.96 572.24 94.61 572.98 94.25 573.72 93.88 574.46 93.50 575.20 93.12 575.94 92.75 576.68 92.38 577.42 92.02 578.16 91.67 578.90 91.31 579.64 90.96 580.38 90.61 581.12 90.25 581.86 89.88 582.60 89.52 583.34 89.14 584.08 88.77 584.82 88.39 585.56 88.01 586.30 87.63 587.04 87.25 587.78 86.87 588.52 86.49 589.26 86.11 590.00 85.73 590.74 85.34 591.48 84.96 592.22 84.58 592.96 84.19 593.70 83.81 594.44 83.42 595.18 83.04 595.92 82.65 596.66 82.26 597.40 81.87 598.14 81.46 598.88 81.05 599.62 80.65 600.36 80.27 601.10 79.90 601.84 79.52 602.58 79.15 603.32 78.78 604.06 78.42 604.80 78.06 605.54 77.71 606.28 77.36 607.02 77.03 607.76 76.70 608.50 76.37 609.24 76.05 609.98 75.74 610.72 75.44 611.46 75.15 612.20 74.88 612.94 74.61 613.68 74.35 614.42 74.10 615.16 73.85 615.90 73.62 616.64 73.39 617.38 73.17 618.12 72.97 618.86 72.77 619.60 72.58 620.34 72.40 621.08 72.22 621.82 72.06 622.56 71.90 623.30 71.75 624.04 71.61 624.78 71.48 625.52 71.37 626.26 71.26 627.00 71.16 627.74 71.07 628.48 71.00 629.22 70.94 629.96 70.89 630.70 70.84 631.44 70.80 632.18 70.76 632.92 70.73 633.66 70.71 634.40 70.70M634.40 70.70 633.66 73.78 632.92 76.69 632.18 79.47 631.44 81.99 630.70 84.12 629.96 85.99 629.22 87.71 628.48 89.29 627.74 90.76 627.00 92.15 626.26 93.47 625.52 94.71 624.78 95.91 624.04 97.06 623.30 98.16 622.56 99.20 621.82 100.19 621.08 101.13 620.34 102.03 619.60 102.89 618.86 103.73 618.12 104.56 617.38 105.38 616.64 106.18 615.90 106.95 615.16 107.70 614.42 108.41 613.68 109.09 612.94 109.74 612.20 110.36 611.46 110.97 610.72 111.56 609.98 112.13 609.24 112.70 608.50 113.26 607.76 113.81 607.02 114.36 606.28 114.90 605.54 115.44 604.80 115.96 604.06 116.48 603.32 117.00 602.58 117.51 601.84 118.02 601.10 118.52 600.36 119.01 599.62 119.51 598.88 120.00 598.14 120.49 597.40 120.97 596.66 121.46 595.92 121.95 595.18 122.45 594.44 122.95 593.70 123.45 592.96 123.95 592.22 124.44 591.48 124.91 590.74 125.37 590.00 125.82 589.26 126.25 588.52 126.67 587.78 127.08 587.04 127.49 586.30 127.89 585.56 128.30 584.82 128.70 584.08 129.12 583.34 129.54 582.60 129.96 581.86 130.38 581.12 130.80 580.38 131.22 579.64 131.64 578.90 132.04 578.16 132.44 577.42 132.84 576.68 133.23 575.94 133.62 575.20 134.01 574.46 134.39 573.72 134.78 572.98 135.16 572.24 135.55 571.50 135.94 570.76 136.33 570.02 136.73 569.28 137.12 568.54 137.51 567.80 137.91 567.06 138.30 566.32 138.68 565.58 139.06 564.84 139.44 564.10 139.82 563.36 140.19 562.62 140.56 561.88 140.92 561.14 141.28 560.40 141.64 559.66 142.00 558.92 142.35 558.18 142.71 557.44 143.07 556.70 143.42 555.96 143.78 555.22 144.13 554.48 144.49 553.74 144.85 553.00 145.20 552.26 145.56 551.52 145.91 550.78 146.27 550.04 146.62 549.30 146.96 548.56 147.31 547.82 147.66 547.08 148.00 546.34 148.34 545.60 148.69 544.86 149.03 544.12 149.37 543.38 149.72 542.64 150.06 541.90 150.41 541.16 150.76 540.42 151.11 539.68 151.46 538.94 151.81 538.20 152.16 537.46 152.51 536.72 152.87 535.98 153.22 535.24 153.58 534.50 153.93 533.76 154.29 533.02 154.65 532.28 155.01 531.54 155.37 530.80 155.74 530.06 156.10 529.32 156.47 528.58 156.84 527.84 157.21 527.10 157.58 526.36 157.95 525.62 158.32 524.88 158.70 524.14 159.08 523.40 159.46 522.66 159.84 521.92 160.23 521.18 160.62 520.44 161.01 519.70 161.41 518.96 161.82 518.22 162.23 517.48 162.64 516.74 163.06 516.00 163.48 515.26 163.90 514.52 164.32 513.78 164.75 513.04 165.17 512.30 165.60 511.56 166.02 510.82 166.45 510.08 166.88 509.34 167.31 508.60 167.73 507.86 168.16 507.12 168.58 506.38 169.00 505.64 169.42 504.90 169.85 504.16 170.27 503.42 170.70 502.68 171.13 501.94 171.57 501.20 172.03 500.46 172.49 499.72 172.95 498.98 173.41 498.24 173.87 497.50 174.31 496.76 174.74 496.02 175.17 495.28 175.59 494.54 176.00 493.80 176.41 493.06 176.81 492.32 177.20 491.58 177.58 490.84 177.96 490.10 178.33 489.36 178.68 488.62 179.02 487.88 179.35 487.14 179.66 486.40 179.96 485.66 180.25 484.92 180.55 484.18 180.84 483.44 181.13 482.70 181.42 481.96 181.71 481.22 181.99 480.48 182.26 479.74 182.53 479.00 182.80 478.26 183.06 477.52 183.31 476.78 183.56 476.04 183.80 475.30 184.04 474.56 184.26 473.82 184.47 473.08 184.66 472.34 184.85 471.60 185.01 470.86 185.16 470.12 185.30 469.38 185.43 468.64 185.56 467.90 185.68 467.16 185.80 466.42 185.92 465.68 186.04 464.94 186.16 464.20 186.28 463.46 186.39 462.72 186.50 461.98 186.59 461.24 186.68 460.50 186.76 459.76 186.83 459.02 186.89 458.28 186.94 457.54 186.97 456.80 187.00M456.80 187.00 457.54 184.32 458.28 181.71 459.02 179.20 459.76 176.79 460.50 174.49 461.24 172.17 461.98 169.83 462.72 167.54 463.46 165.37 464.20 163.39 464.94 161.69 465.68 160.32 466.42 159.19 467.16 158.17 467.90 157.22 468.64 156.35 469.38 155.54 470.12 154.78 470.86 154.05 471.60 153.34 472.34 152.64 473.08 151.93 473.82 151.23 474.56 150.52 475.30 149.82 476.04 149.12 476.78 148.44 477.52 147.78 478.26 147.12 479.00 146.48 479.74 145.85 480.48 145.23 481.22 144.62 481.96 144.02 482.70 143.44 483.44 142.86 484.18 142.29 484.92 141.72 485.66 141.17 486.40 140.62 487.14 140.08 487.88 139.55 488.62 139.02 489.36 138.50 490.10 137.98 490.84 137.46 491.58 136.96 492.32 136.45 493.06 135.95 493.80 135.45 494.54 134.95 495.28 134.47 496.02 133.98 496.76 133.50 497.50 133.02 498.24 132.55 498.98 132.09 499.72 131.62 500.46 131.16 501.20 130.71 501.94 130.26 502.68 129.81 503.42 129.37 504.16 128.94 504.90 128.50 505.64 128.07 506.38 127.65 507.12 127.23 507.86 126.81 508.60 126.40 509.34 125.99 510.08 125.59 510.82 125.19 511.56 124.80 512.30 124.40 513.04 124.02 513.78 123.63 514.52 123.26 515.26 122.88 516.00 122.51 516.74 122.15 517.48 121.79 518.22 121.44 518.96 121.09 519.70 120.75 520.44 120.41 521.18 120.08 521.92 119.75 522.66 119.42 523.40 119.09 524.14 118.77 524.88 118.44 525.62 118.12 526.36 117.80 527.10 117.48 527.84 117.16 528.58 116.85 529.32 116.53 530.06 116.21 530.80 115.89 531.54 115.57 532.28 115.25 533.02 114.92 533.76 114.60 534.50 114.27 535.24 113.94 535.98 113.61 536.72 113.27 537.46 112.93 538.20 112.59 538.94 112.25 539.68 111.89 540.42 111.54 541.16 111.18 541.90 110.82 542.64 110.45 543.38 110.08 544.12 109.71 544.86 109.34 545.60 108.97 546.34 108.59 547.08 108.21 547.82 107.83 548.56 107.45 549.30 107.07 550.04 106.69 550.78 106.31 551.52 105.93 552.26 105.55 553.00 105.17 553.74 104.79 554.48 104.41 555.22 104.03 555.96 103.65 556.70 103.28 557.44 102.91 558.18 102.53 558.92 102.17 559.66 101.80 560.40 101.43 561.14 101.07 561.88 100.71 562.62 100.35 563.36 99.99 564.10 99.63 564.84 99.27 565.58 98.92 566.32 98.56 567.06 98.21 567.80 97.86 568.54 97.51 569.28 97.15 570.02 96.80 570.76 96.45 571.50 96.10 572.24 95.76 572.98 95.41 573.72 95.06 574.46 94.71 575.20 94.36 575.94 94.02 576.68 93.67 577.42 93.34 578.16 93.01 578.90 92.68 579.64 92.35 580.38 92.02 581.12 91.67 581.86 91.31 582.60 90.93 583.34 90.54 584.08 90.14 584.82 89.73 585.56 89.31 586.30 88.88 587.04 88.44 587.78 88.00 588.52 87.55 589.26 87.09 590.00 86.62 590.74 86.15 591.48 85.67 592.22 85.19 592.96 84.69 593.70 84.20 594.44 83.70 595.18 83.19 595.92 82.68 596.66 82.16 597.40 81.62 598.14 81.04 598.88 80.46 599.62 79.89 600.36 79.36 601.10 78.83 601.84 78.31 602.58 77.80 603.32 77.30 604.06 76.80 604.80 76.31 605.54 75.84 606.28 75.37 607.02 74.91 607.76 74.46 608.50 74.00 609.24 73.55 609.98 73.10 610.72 72.65 611.46 72.21 612.20 71.77 612.94 71.34 613.68 70.93 614.42 70.52 615.16 70.13 615.90 69.75 616.64 69.39 617.38 69.04 618.12 68.71 618.86 68.41 619.60 68.10 620.34 67.80 621.08 67.50 621.82 67.20 622.56 66.91 623.30 66.64 624.04 66.37 624.78 66.12 625.52 65.89 626.26 65.68 627.00 65.48 627.74 65.32 628.48 65.18 629.22 65.07 629.96 64.97 630.70 64.88 631.44 64.79 632.18 64.72 632.92 64.66 633.66 64.62 634.40 64.60M634.40 64.60 633.66 67.81 632.92 70.88 632.18 73.92 631.44 76.71 630.70 79.05 629.96 81.08 629.22 82.95 628.48 84.67 627.74 86.26 627.00 87.75 626.26 89.15 625.52 90.48 624.78 91.76 624.04 93.01 623.30 94.21 622.56 95.38 621.82 96.50 621.08 97.59 620.34 98.63 619.60 99.63 618.86 100.59 618.12 101.51 617.38 102.39 616.64 103.23 615.90 104.03 615.16 104.79 614.42 105.53 613.68 106.25 612.94 106.94 612.20 107.62 611.46 108.27 610.72 108.91 609.98 109.53 609.24 110.13 608.50 110.72 607.76 111.30 607.02 111.86 606.28 112.42 605.54 112.96 604.80 113.50 604.06 114.02 603.32 114.54 602.58 115.06 601.84 115.57 601.10 116.08 600.36 116.59 599.62 117.10 598.88 117.60 598.14 118.10 597.40 118.59 596.66 119.07 595.92 119.55 595.18 120.03 594.44 120.50 593.70 120.96 592.96 121.42 592.22 121.88 591.48 122.33 590.74 122.77 590.00 123.22 589.26 123.65 588.52 124.09 587.78 124.52 587.04 124.95 586.30 125.37 585.56 125.80 584.82 126.22 584.08 126.63 583.34 127.05 582.60 127.46 581.86 127.87 581.12 128.28 580.38 128.68 579.64 129.09 578.90 129.49 578.16 129.89 577.42 130.30 576.68 130.70 575.94 131.10 575.20 131.50 574.46 131.89 573.72 132.29 572.98 132.69 572.24 133.09 571.50 133.49 570.76 133.89 570.02 134.29 569.28 134.69 568.54 135.09 567.80 135.49 567.06 135.88 566.32 136.27 565.58 136.65 564.84 137.03 564.10 137.41 563.36 137.79 562.62 138.17 561.88 138.54 561.14 138.91 560.40 139.28 559.66 139.65 558.92 140.01 558.18 140.38 557.44 140.74 556.70 141.10 555.96 141.46 555.22 141.82 554.48 142.17 553.74 142.53 553.00 142.88 552.26 143.24 551.52 143.59 550.78 143.94 550.04 144.29 549.30 144.65 548.56 145.00 547.82 145.35 547.08 145.70 546.34 146.05 545.60 146.40 544.86 146.75 544.12 147.11 543.38 147.46 542.64 147.81 541.90 148.17 541.16 148.52 540.42 148.88 539.68 149.23 538.94 149.59 538.20 149.95 537.46 150.31 536.72 150.67 535.98 151.03 535.24 151.40 534.50 151.77 533.76 152.13 533.02 152.51 532.28 152.88 531.54 153.25 530.80 153.63 530.06 154.01 529.32 154.39 528.58 154.78 527.84 155.17 527.10 155.56 526.36 155.95 525.62 156.35 524.88 156.75 524.14 157.15 523.40 157.56 522.66 157.97 521.92 158.38 521.18 158.80 520.44 159.22 519.70 159.65 518.96 160.08 518.22 160.52 517.48 160.96 516.74 161.41 516.00 161.86 515.26 162.32 514.52 162.78 513.78 163.24 513.04 163.71 512.30 164.19 511.56 164.66 510.82 165.15 510.08 165.63 509.34 166.12 508.60 166.61 507.86 167.10 507.12 167.60 506.38 168.10 505.64 168.60 504.90 169.10 504.16 169.60 503.42 170.11 502.68 170.62 501.94 171.15 501.20 171.69 500.46 172.25 499.72 172.81 498.98 173.39 498.24 173.96 497.50 174.55 496.76 175.13 496.02 175.72 495.28 176.30 494.54 176.89 493.80 177.46 493.06 178.03 492.32 178.59 491.58 179.14 490.84 179.68 490.10 180.20 489.36 180.70 488.62 181.19 487.88 181.65 487.14 182.10 486.40 182.52 485.66 182.94 484.92 183.36 484.18 183.78 483.44 184.19 482.70 184.61 481.96 185.01 481.22 185.42 480.48 185.81 479.74 186.20 479.00 186.57 478.26 186.94 477.52 187.30 476.78 187.64 476.04 187.97 475.30 188.28 474.56 188.58 473.82 188.86 473.08 189.12 472.34 189.37 471.60 189.59 470.86 189.79 470.12 189.97 469.38 190.15 468.64 190.32 467.90 190.49 467.16 190.65 466.42 190.81 465.68 190.96 464.94 191.11 464.20 191.25 463.46 191.39 462.72 191.51 461.98 191.63 461.24 191.73 460.50 191.83 459.76 191.91 459.02 191.98 458.28 192.03 457.54 192.07 456.80 192.10M456.80 192.10 456.88 191.21 456.97 190.32 457.07 189.43 457.17 188.54 457.28 187.65 457.40 186.76 457.52 185.87 457.64 184.99 457.77 184.10 457.91 183.21 458.05 182.32 458.21 181.44 458.37 180.56 458.55 179.68 458.74 178.81 458.96 177.95 459.19 177.08 459.45 176.22 459.73 175.36 460.03 174.51 460.34 173.67 460.66 172.85 461.02 172.03 461.42 171.23 461.84 170.44 462.28 169.65 462.72 168.87 463.15 168.08 463.58 167.30 464.01 166.51 464.44 165.72 464.87 164.94 465.32 164.16 465.77 163.39 466.23 162.62 466.70 161.86 467.19 161.11 467.68 160.37 468.19 159.63 468.70 158.89 469.21 158.15 469.72 157.41 470.22 156.67 470.71 155.92 471.20 155.16 471.69 154.40 472.17 153.64 472.67 152.88 473.17 152.14 473.69 151.41 474.22 150.70 474.78 150.02 475.36 149.36 475.96 148.70 476.58 148.05 477.22 147.41 477.87 146.78 478.53 146.16 479.21 145.56 479.90 144.97 480.60 144.40 481.31 143.86 482.03 143.33 482.75 142.83 483.49 142.34 484.26 141.87 485.04 141.42 485.83 140.99 486.63 140.57 487.44 140.18 488.26 139.81 489.07 139.46 489.89 139.12 490.73 138.79 491.56 138.48 492.41 138.18 493.27 137.90 494.13 137.64 495.00 137.40" stroke="#1a1a1a" stroke-width="0.85" fill="none" stroke-linejoin="round"/>
</svg></body></html>
